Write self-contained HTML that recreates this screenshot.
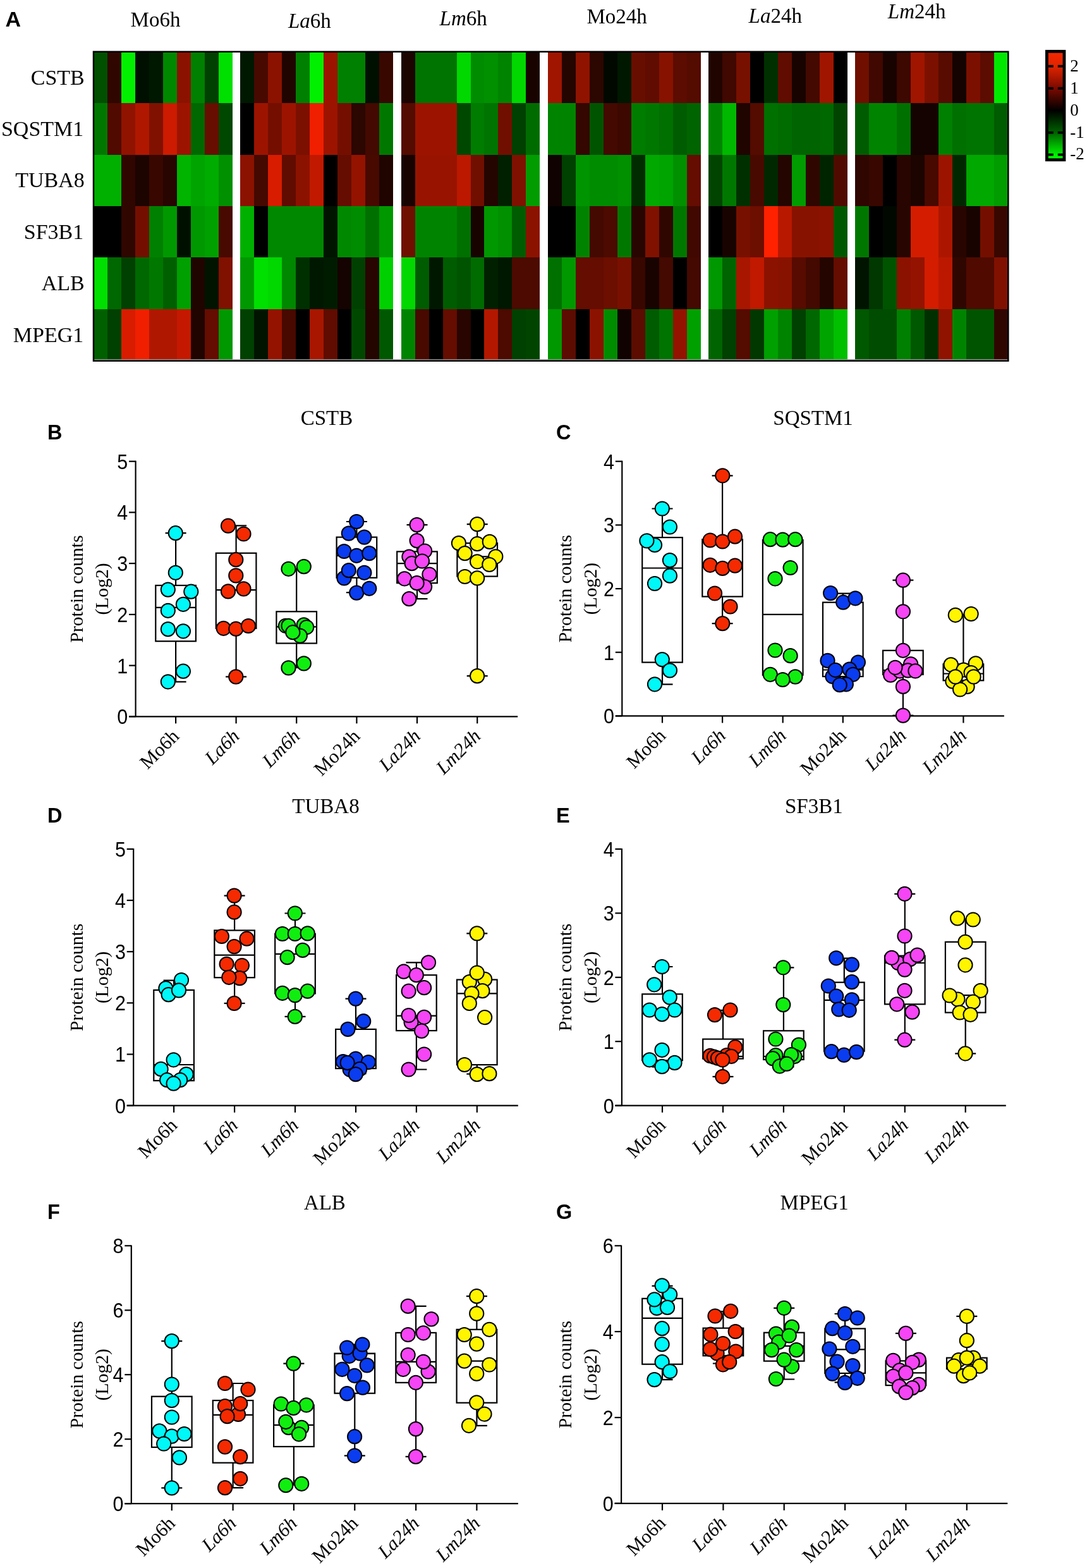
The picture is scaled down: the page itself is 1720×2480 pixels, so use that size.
<!DOCTYPE html>
<html><head><meta charset="utf-8"><title>Figure</title>
<style>html,body{margin:0;padding:0;background:#fff;}svg{display:block;}</style>
</head><body>
<svg width="1720" height="2480" viewBox="0 0 1720 2480">
<rect width="1720" height="2480" fill="#fff"/>
<g shape-rendering="crispEdges">
<rect x="147.8" y="82.9" width="22.6" height="80.8" fill="#005000"/>
<rect x="147.8" y="163.1" width="22.6" height="82.1" fill="#007800"/>
<rect x="147.8" y="244.6" width="22.6" height="82" fill="#00b000"/>
<rect x="147.8" y="326" width="22.6" height="81.9" fill="#000000"/>
<rect x="147.8" y="407.3" width="22.6" height="82.2" fill="#00e000"/>
<rect x="147.8" y="488.9" width="22.6" height="79.9" fill="#006000"/>
<rect x="169.8" y="82.9" width="22.6" height="80.8" fill="#300600"/>
<rect x="169.8" y="163.1" width="22.6" height="82.1" fill="#500a00"/>
<rect x="169.8" y="244.6" width="22.6" height="82" fill="#00b000"/>
<rect x="169.8" y="326" width="22.6" height="81.9" fill="#000000"/>
<rect x="169.8" y="407.3" width="22.6" height="82.2" fill="#006800"/>
<rect x="169.8" y="488.9" width="22.6" height="79.9" fill="#004000"/>
<rect x="191.8" y="82.9" width="22.6" height="80.8" fill="#00f000"/>
<rect x="191.8" y="163.1" width="22.6" height="82.1" fill="#901300"/>
<rect x="191.8" y="244.6" width="22.6" height="82" fill="#300600"/>
<rect x="191.8" y="326" width="22.6" height="81.9" fill="#300600"/>
<rect x="191.8" y="407.3" width="22.6" height="82.2" fill="#004000"/>
<rect x="191.8" y="488.9" width="22.6" height="79.9" fill="#d81c00"/>
<rect x="213.8" y="82.9" width="22.6" height="80.8" fill="#001000"/>
<rect x="213.8" y="163.1" width="22.6" height="82.1" fill="#b01700"/>
<rect x="213.8" y="244.6" width="22.6" height="82" fill="#1c0400"/>
<rect x="213.8" y="326" width="22.6" height="81.9" fill="#740f00"/>
<rect x="213.8" y="407.3" width="22.6" height="82.2" fill="#006800"/>
<rect x="213.8" y="488.9" width="22.6" height="79.9" fill="#f01f00"/>
<rect x="235.8" y="82.9" width="22.6" height="80.8" fill="#001800"/>
<rect x="235.8" y="163.1" width="22.6" height="82.1" fill="#801100"/>
<rect x="235.8" y="244.6" width="22.6" height="82" fill="#380700"/>
<rect x="235.8" y="326" width="22.6" height="81.9" fill="#008000"/>
<rect x="235.8" y="407.3" width="22.6" height="82.2" fill="#007800"/>
<rect x="235.8" y="488.9" width="22.6" height="79.9" fill="#b01700"/>
<rect x="257.8" y="82.9" width="22.6" height="80.8" fill="#008800"/>
<rect x="257.8" y="163.1" width="22.6" height="82.1" fill="#cc1b00"/>
<rect x="257.8" y="244.6" width="22.6" height="82" fill="#280500"/>
<rect x="257.8" y="326" width="22.6" height="81.9" fill="#009800"/>
<rect x="257.8" y="407.3" width="22.6" height="82.2" fill="#006000"/>
<rect x="257.8" y="488.9" width="22.6" height="79.9" fill="#b01700"/>
<rect x="279.8" y="82.9" width="22.6" height="80.8" fill="#8c1200"/>
<rect x="279.8" y="163.1" width="22.6" height="82.1" fill="#9c1400"/>
<rect x="279.8" y="244.6" width="22.6" height="82" fill="#00b400"/>
<rect x="279.8" y="326" width="22.6" height="81.9" fill="#001000"/>
<rect x="279.8" y="407.3" width="22.6" height="82.2" fill="#00a000"/>
<rect x="279.8" y="488.9" width="22.6" height="79.9" fill="#c41900"/>
<rect x="301.8" y="82.9" width="22.6" height="80.8" fill="#008000"/>
<rect x="301.8" y="163.1" width="22.6" height="82.1" fill="#006800"/>
<rect x="301.8" y="244.6" width="22.6" height="82" fill="#00a400"/>
<rect x="301.8" y="326" width="22.6" height="81.9" fill="#009800"/>
<rect x="301.8" y="407.3" width="22.6" height="82.2" fill="#200400"/>
<rect x="301.8" y="488.9" width="22.6" height="79.9" fill="#200400"/>
<rect x="323.8" y="82.9" width="22.6" height="80.8" fill="#004000"/>
<rect x="323.8" y="163.1" width="22.6" height="82.1" fill="#680e00"/>
<rect x="323.8" y="244.6" width="22.6" height="82" fill="#00ac00"/>
<rect x="323.8" y="326" width="22.6" height="81.9" fill="#00a000"/>
<rect x="323.8" y="407.3" width="22.6" height="82.2" fill="#001400"/>
<rect x="323.8" y="488.9" width="22.6" height="79.9" fill="#640d00"/>
<rect x="345.8" y="82.9" width="22" height="80.8" fill="#00e000"/>
<rect x="345.8" y="163.1" width="22" height="82.1" fill="#004800"/>
<rect x="345.8" y="244.6" width="22" height="82" fill="#009000"/>
<rect x="345.8" y="326" width="22" height="81.9" fill="#480900"/>
<rect x="345.8" y="407.3" width="22" height="82.2" fill="#801100"/>
<rect x="345.8" y="488.9" width="22" height="79.9" fill="#009800"/>
<rect x="380.1" y="82.9" width="22.6" height="80.8" fill="#001800"/>
<rect x="380.1" y="163.1" width="22.6" height="82.1" fill="#000000"/>
<rect x="380.1" y="244.6" width="22.6" height="82" fill="#8c1200"/>
<rect x="380.1" y="326" width="22.6" height="81.9" fill="#00b000"/>
<rect x="380.1" y="407.3" width="22.6" height="82.2" fill="#009800"/>
<rect x="380.1" y="488.9" width="22.6" height="79.9" fill="#004000"/>
<rect x="402.1" y="82.9" width="22.6" height="80.8" fill="#480900"/>
<rect x="402.1" y="163.1" width="22.6" height="82.1" fill="#9c1400"/>
<rect x="402.1" y="244.6" width="22.6" height="82" fill="#440900"/>
<rect x="402.1" y="326" width="22.6" height="81.9" fill="#000000"/>
<rect x="402.1" y="407.3" width="22.6" height="82.2" fill="#00e000"/>
<rect x="402.1" y="488.9" width="22.6" height="79.9" fill="#001400"/>
<rect x="424.1" y="82.9" width="22.6" height="80.8" fill="#8c1200"/>
<rect x="424.1" y="163.1" width="22.6" height="82.1" fill="#740f00"/>
<rect x="424.1" y="244.6" width="22.6" height="82" fill="#d81c00"/>
<rect x="424.1" y="326" width="22.6" height="81.9" fill="#008800"/>
<rect x="424.1" y="407.3" width="22.6" height="82.2" fill="#00d800"/>
<rect x="424.1" y="488.9" width="22.6" height="79.9" fill="#941300"/>
<rect x="446.1" y="82.9" width="22.6" height="80.8" fill="#200400"/>
<rect x="446.1" y="163.1" width="22.6" height="82.1" fill="#9c1400"/>
<rect x="446.1" y="244.6" width="22.6" height="82" fill="#600c00"/>
<rect x="446.1" y="326" width="22.6" height="81.9" fill="#008800"/>
<rect x="446.1" y="407.3" width="22.6" height="82.2" fill="#008800"/>
<rect x="446.1" y="488.9" width="22.6" height="79.9" fill="#480900"/>
<rect x="468.1" y="82.9" width="22.6" height="80.8" fill="#008000"/>
<rect x="468.1" y="163.1" width="22.6" height="82.1" fill="#7c1000"/>
<rect x="468.1" y="244.6" width="22.6" height="82" fill="#8c1200"/>
<rect x="468.1" y="326" width="22.6" height="81.9" fill="#008800"/>
<rect x="468.1" y="407.3" width="22.6" height="82.2" fill="#003000"/>
<rect x="468.1" y="488.9" width="22.6" height="79.9" fill="#000000"/>
<rect x="490.1" y="82.9" width="22.6" height="80.8" fill="#00f000"/>
<rect x="490.1" y="163.1" width="22.6" height="82.1" fill="#f01f00"/>
<rect x="490.1" y="244.6" width="22.6" height="82" fill="#c01900"/>
<rect x="490.1" y="326" width="22.6" height="81.9" fill="#008800"/>
<rect x="490.1" y="407.3" width="22.6" height="82.2" fill="#001800"/>
<rect x="490.1" y="488.9" width="22.6" height="79.9" fill="#a81600"/>
<rect x="512.2" y="82.9" width="22.6" height="80.8" fill="#9c1400"/>
<rect x="512.2" y="163.1" width="22.6" height="82.1" fill="#9c1400"/>
<rect x="512.2" y="244.6" width="22.6" height="82" fill="#000000"/>
<rect x="512.2" y="326" width="22.6" height="81.9" fill="#001400"/>
<rect x="512.2" y="407.3" width="22.6" height="82.2" fill="#001c00"/>
<rect x="512.2" y="488.9" width="22.6" height="79.9" fill="#600c00"/>
<rect x="534.2" y="82.9" width="22.6" height="80.8" fill="#008000"/>
<rect x="534.2" y="163.1" width="22.6" height="82.1" fill="#740f00"/>
<rect x="534.2" y="244.6" width="22.6" height="82" fill="#640d00"/>
<rect x="534.2" y="326" width="22.6" height="81.9" fill="#008800"/>
<rect x="534.2" y="407.3" width="22.6" height="82.2" fill="#140300"/>
<rect x="534.2" y="488.9" width="22.6" height="79.9" fill="#000000"/>
<rect x="556.2" y="82.9" width="22.6" height="80.8" fill="#008000"/>
<rect x="556.2" y="163.1" width="22.6" height="82.1" fill="#2c0600"/>
<rect x="556.2" y="244.6" width="22.6" height="82" fill="#941300"/>
<rect x="556.2" y="326" width="22.6" height="81.9" fill="#008c00"/>
<rect x="556.2" y="407.3" width="22.6" height="82.2" fill="#004000"/>
<rect x="556.2" y="488.9" width="22.6" height="79.9" fill="#004800"/>
<rect x="578.2" y="82.9" width="22.6" height="80.8" fill="#001000"/>
<rect x="578.2" y="163.1" width="22.6" height="82.1" fill="#440900"/>
<rect x="578.2" y="244.6" width="22.6" height="82" fill="#480900"/>
<rect x="578.2" y="326" width="22.6" height="81.9" fill="#007000"/>
<rect x="578.2" y="407.3" width="22.6" height="82.2" fill="#280500"/>
<rect x="578.2" y="488.9" width="22.6" height="79.9" fill="#240500"/>
<rect x="600.2" y="82.9" width="22" height="80.8" fill="#380700"/>
<rect x="600.2" y="163.1" width="22" height="82.1" fill="#007800"/>
<rect x="600.2" y="244.6" width="22" height="82" fill="#200400"/>
<rect x="600.2" y="326" width="22" height="81.9" fill="#009800"/>
<rect x="600.2" y="407.3" width="22" height="82.2" fill="#00d000"/>
<rect x="600.2" y="488.9" width="22" height="79.9" fill="#005800"/>
<rect x="634.5" y="82.9" width="22.6" height="80.8" fill="#1c0400"/>
<rect x="634.5" y="163.1" width="22.6" height="82.1" fill="#540b00"/>
<rect x="634.5" y="244.6" width="22.6" height="82" fill="#180300"/>
<rect x="634.5" y="326" width="22.6" height="81.9" fill="#700f00"/>
<rect x="634.5" y="407.3" width="22.6" height="82.2" fill="#00d800"/>
<rect x="634.5" y="488.9" width="22.6" height="79.9" fill="#008400"/>
<rect x="656.5" y="82.9" width="22.6" height="80.8" fill="#007400"/>
<rect x="656.5" y="163.1" width="22.6" height="82.1" fill="#9c1400"/>
<rect x="656.5" y="244.6" width="22.6" height="82" fill="#981400"/>
<rect x="656.5" y="326" width="22.6" height="81.9" fill="#008400"/>
<rect x="656.5" y="407.3" width="22.6" height="82.2" fill="#005c00"/>
<rect x="656.5" y="488.9" width="22.6" height="79.9" fill="#480900"/>
<rect x="678.5" y="82.9" width="22.6" height="80.8" fill="#007400"/>
<rect x="678.5" y="163.1" width="22.6" height="82.1" fill="#9c1400"/>
<rect x="678.5" y="244.6" width="22.6" height="82" fill="#981400"/>
<rect x="678.5" y="326" width="22.6" height="81.9" fill="#008400"/>
<rect x="678.5" y="407.3" width="22.6" height="82.2" fill="#001800"/>
<rect x="678.5" y="488.9" width="22.6" height="79.9" fill="#000000"/>
<rect x="700.5" y="82.9" width="22.6" height="80.8" fill="#007400"/>
<rect x="700.5" y="163.1" width="22.6" height="82.1" fill="#9c1400"/>
<rect x="700.5" y="244.6" width="22.6" height="82" fill="#981400"/>
<rect x="700.5" y="326" width="22.6" height="81.9" fill="#008400"/>
<rect x="700.5" y="407.3" width="22.6" height="82.2" fill="#005c00"/>
<rect x="700.5" y="488.9" width="22.6" height="79.9" fill="#640d00"/>
<rect x="722.5" y="82.9" width="22.6" height="80.8" fill="#00d800"/>
<rect x="722.5" y="163.1" width="22.6" height="82.1" fill="#004800"/>
<rect x="722.5" y="244.6" width="22.6" height="82" fill="#bc1800"/>
<rect x="722.5" y="326" width="22.6" height="81.9" fill="#007000"/>
<rect x="722.5" y="407.3" width="22.6" height="82.2" fill="#005400"/>
<rect x="722.5" y="488.9" width="22.6" height="79.9" fill="#280500"/>
<rect x="744.5" y="82.9" width="22.6" height="80.8" fill="#008c00"/>
<rect x="744.5" y="163.1" width="22.6" height="82.1" fill="#007c00"/>
<rect x="744.5" y="244.6" width="22.6" height="82" fill="#700f00"/>
<rect x="744.5" y="326" width="22.6" height="81.9" fill="#180300"/>
<rect x="744.5" y="407.3" width="22.6" height="82.2" fill="#006c00"/>
<rect x="744.5" y="488.9" width="22.6" height="79.9" fill="#000000"/>
<rect x="766.4" y="82.9" width="22.6" height="80.8" fill="#009000"/>
<rect x="766.4" y="163.1" width="22.6" height="82.1" fill="#007400"/>
<rect x="766.4" y="244.6" width="22.6" height="82" fill="#240500"/>
<rect x="766.4" y="326" width="22.6" height="81.9" fill="#009800"/>
<rect x="766.4" y="407.3" width="22.6" height="82.2" fill="#002000"/>
<rect x="766.4" y="488.9" width="22.6" height="79.9" fill="#b41700"/>
<rect x="788.4" y="82.9" width="22.6" height="80.8" fill="#008400"/>
<rect x="788.4" y="163.1" width="22.6" height="82.1" fill="#700f00"/>
<rect x="788.4" y="244.6" width="22.6" height="82" fill="#002000"/>
<rect x="788.4" y="326" width="22.6" height="81.9" fill="#009000"/>
<rect x="788.4" y="407.3" width="22.6" height="82.2" fill="#001800"/>
<rect x="788.4" y="488.9" width="22.6" height="79.9" fill="#4c0a00"/>
<rect x="810.4" y="82.9" width="22.6" height="80.8" fill="#00d800"/>
<rect x="810.4" y="163.1" width="22.6" height="82.1" fill="#004000"/>
<rect x="810.4" y="244.6" width="22.6" height="82" fill="#801100"/>
<rect x="810.4" y="326" width="22.6" height="81.9" fill="#005c00"/>
<rect x="810.4" y="407.3" width="22.6" height="82.2" fill="#4c0a00"/>
<rect x="810.4" y="488.9" width="22.6" height="79.9" fill="#004000"/>
<rect x="832.4" y="82.9" width="22" height="80.8" fill="#180300"/>
<rect x="832.4" y="163.1" width="22" height="82.1" fill="#006c00"/>
<rect x="832.4" y="244.6" width="22" height="82" fill="#009c00"/>
<rect x="832.4" y="326" width="22" height="81.9" fill="#8c1200"/>
<rect x="832.4" y="407.3" width="22" height="82.2" fill="#4c0a00"/>
<rect x="832.4" y="488.9" width="22" height="79.9" fill="#004400"/>
<rect x="867.1" y="82.9" width="22.6" height="80.8" fill="#a01500"/>
<rect x="867.1" y="163.1" width="22.6" height="82.1" fill="#008400"/>
<rect x="867.1" y="244.6" width="22.6" height="82" fill="#100200"/>
<rect x="867.1" y="326" width="22.6" height="81.9" fill="#000000"/>
<rect x="867.1" y="407.3" width="22.6" height="82.2" fill="#007000"/>
<rect x="867.1" y="488.9" width="22.6" height="79.9" fill="#009800"/>
<rect x="889.1" y="82.9" width="22.6" height="80.8" fill="#240500"/>
<rect x="889.1" y="163.1" width="22.6" height="82.1" fill="#008400"/>
<rect x="889.1" y="244.6" width="22.6" height="82" fill="#004000"/>
<rect x="889.1" y="326" width="22.6" height="81.9" fill="#000000"/>
<rect x="889.1" y="407.3" width="22.6" height="82.2" fill="#009800"/>
<rect x="889.1" y="488.9" width="22.6" height="79.9" fill="#5c0c00"/>
<rect x="911" y="82.9" width="22.6" height="80.8" fill="#901300"/>
<rect x="911" y="163.1" width="22.6" height="82.1" fill="#340700"/>
<rect x="911" y="244.6" width="22.6" height="82" fill="#009400"/>
<rect x="911" y="326" width="22.6" height="81.9" fill="#008400"/>
<rect x="911" y="407.3" width="22.6" height="82.2" fill="#640d00"/>
<rect x="911" y="488.9" width="22.6" height="79.9" fill="#000000"/>
<rect x="933" y="82.9" width="22.6" height="80.8" fill="#2c0600"/>
<rect x="933" y="163.1" width="22.6" height="82.1" fill="#005400"/>
<rect x="933" y="244.6" width="22.6" height="82" fill="#008c00"/>
<rect x="933" y="326" width="22.6" height="81.9" fill="#440900"/>
<rect x="933" y="407.3" width="22.6" height="82.2" fill="#640d00"/>
<rect x="933" y="488.9" width="22.6" height="79.9" fill="#8c1200"/>
<rect x="955" y="82.9" width="22.6" height="80.8" fill="#000800"/>
<rect x="955" y="163.1" width="22.6" height="82.1" fill="#440900"/>
<rect x="955" y="244.6" width="22.6" height="82" fill="#008c00"/>
<rect x="955" y="326" width="22.6" height="81.9" fill="#4c0a00"/>
<rect x="955" y="407.3" width="22.6" height="82.2" fill="#6c0e00"/>
<rect x="955" y="488.9" width="22.6" height="79.9" fill="#008c00"/>
<rect x="976.9" y="82.9" width="22.6" height="80.8" fill="#001800"/>
<rect x="976.9" y="163.1" width="22.6" height="82.1" fill="#3c0800"/>
<rect x="976.9" y="244.6" width="22.6" height="82" fill="#009000"/>
<rect x="976.9" y="326" width="22.6" height="81.9" fill="#007800"/>
<rect x="976.9" y="407.3" width="22.6" height="82.2" fill="#781000"/>
<rect x="976.9" y="488.9" width="22.6" height="79.9" fill="#100200"/>
<rect x="998.9" y="82.9" width="22.6" height="80.8" fill="#680e00"/>
<rect x="998.9" y="163.1" width="22.6" height="82.1" fill="#007c00"/>
<rect x="998.9" y="244.6" width="22.6" height="82" fill="#002c00"/>
<rect x="998.9" y="326" width="22.6" height="81.9" fill="#280500"/>
<rect x="998.9" y="407.3" width="22.6" height="82.2" fill="#380700"/>
<rect x="998.9" y="488.9" width="22.6" height="79.9" fill="#5c0c00"/>
<rect x="1020.8" y="82.9" width="22.6" height="80.8" fill="#600c00"/>
<rect x="1020.8" y="163.1" width="22.6" height="82.1" fill="#007800"/>
<rect x="1020.8" y="244.6" width="22.6" height="82" fill="#00a800"/>
<rect x="1020.8" y="326" width="22.6" height="81.9" fill="#801100"/>
<rect x="1020.8" y="407.3" width="22.6" height="82.2" fill="#180300"/>
<rect x="1020.8" y="488.9" width="22.6" height="79.9" fill="#005c00"/>
<rect x="1042.8" y="82.9" width="22.6" height="80.8" fill="#881200"/>
<rect x="1042.8" y="163.1" width="22.6" height="82.1" fill="#007000"/>
<rect x="1042.8" y="244.6" width="22.6" height="82" fill="#00a400"/>
<rect x="1042.8" y="326" width="22.6" height="81.9" fill="#300600"/>
<rect x="1042.8" y="407.3" width="22.6" height="82.2" fill="#440900"/>
<rect x="1042.8" y="488.9" width="22.6" height="79.9" fill="#007400"/>
<rect x="1064.8" y="82.9" width="22.6" height="80.8" fill="#5c0c00"/>
<rect x="1064.8" y="163.1" width="22.6" height="82.1" fill="#005c00"/>
<rect x="1064.8" y="244.6" width="22.6" height="82" fill="#009000"/>
<rect x="1064.8" y="326" width="22.6" height="81.9" fill="#007800"/>
<rect x="1064.8" y="407.3" width="22.6" height="82.2" fill="#000000"/>
<rect x="1064.8" y="488.9" width="22.6" height="79.9" fill="#941300"/>
<rect x="1086.7" y="82.9" width="22" height="80.8" fill="#540b00"/>
<rect x="1086.7" y="163.1" width="22" height="82.1" fill="#006400"/>
<rect x="1086.7" y="244.6" width="22" height="82" fill="#640d00"/>
<rect x="1086.7" y="326" width="22" height="81.9" fill="#400800"/>
<rect x="1086.7" y="407.3" width="22" height="82.2" fill="#440900"/>
<rect x="1086.7" y="488.9" width="22" height="79.9" fill="#00a000"/>
<rect x="1121.3" y="82.9" width="22.6" height="80.8" fill="#200400"/>
<rect x="1121.3" y="163.1" width="22.6" height="82.1" fill="#008400"/>
<rect x="1121.3" y="244.6" width="22.6" height="82" fill="#004400"/>
<rect x="1121.3" y="326" width="22.6" height="81.9" fill="#000000"/>
<rect x="1121.3" y="407.3" width="22.6" height="82.2" fill="#009800"/>
<rect x="1121.3" y="488.9" width="22.6" height="79.9" fill="#006400"/>
<rect x="1143.2" y="82.9" width="22.6" height="80.8" fill="#400800"/>
<rect x="1143.2" y="163.1" width="22.6" height="82.1" fill="#00b800"/>
<rect x="1143.2" y="244.6" width="22.6" height="82" fill="#007800"/>
<rect x="1143.2" y="326" width="22.6" height="81.9" fill="#180300"/>
<rect x="1143.2" y="407.3" width="22.6" height="82.2" fill="#006400"/>
<rect x="1143.2" y="488.9" width="22.6" height="79.9" fill="#004000"/>
<rect x="1165.2" y="82.9" width="22.6" height="80.8" fill="#781000"/>
<rect x="1165.2" y="163.1" width="22.6" height="82.1" fill="#200400"/>
<rect x="1165.2" y="244.6" width="22.6" height="82" fill="#003000"/>
<rect x="1165.2" y="326" width="22.6" height="81.9" fill="#781000"/>
<rect x="1165.2" y="407.3" width="22.6" height="82.2" fill="#a81600"/>
<rect x="1165.2" y="488.9" width="22.6" height="79.9" fill="#540b00"/>
<rect x="1187.1" y="82.9" width="22.6" height="80.8" fill="#000000"/>
<rect x="1187.1" y="163.1" width="22.6" height="82.1" fill="#540b00"/>
<rect x="1187.1" y="244.6" width="22.6" height="82" fill="#480900"/>
<rect x="1187.1" y="326" width="22.6" height="81.9" fill="#6c0e00"/>
<rect x="1187.1" y="407.3" width="22.6" height="82.2" fill="#c01900"/>
<rect x="1187.1" y="488.9" width="22.6" height="79.9" fill="#003800"/>
<rect x="1209.1" y="82.9" width="22.6" height="80.8" fill="#003000"/>
<rect x="1209.1" y="163.1" width="22.6" height="82.1" fill="#007000"/>
<rect x="1209.1" y="244.6" width="22.6" height="82" fill="#002800"/>
<rect x="1209.1" y="326" width="22.6" height="81.9" fill="#ff2100"/>
<rect x="1209.1" y="407.3" width="22.6" height="82.2" fill="#8c1200"/>
<rect x="1209.1" y="488.9" width="22.6" height="79.9" fill="#00a000"/>
<rect x="1231" y="82.9" width="22.6" height="80.8" fill="#600c00"/>
<rect x="1231" y="163.1" width="22.6" height="82.1" fill="#006c00"/>
<rect x="1231" y="244.6" width="22.6" height="82" fill="#240500"/>
<rect x="1231" y="326" width="22.6" height="81.9" fill="#b81800"/>
<rect x="1231" y="407.3" width="22.6" height="82.2" fill="#881200"/>
<rect x="1231" y="488.9" width="22.6" height="79.9" fill="#008400"/>
<rect x="1253" y="82.9" width="22.6" height="80.8" fill="#180300"/>
<rect x="1253" y="163.1" width="22.6" height="82.1" fill="#006400"/>
<rect x="1253" y="244.6" width="22.6" height="82" fill="#009c00"/>
<rect x="1253" y="326" width="22.6" height="81.9" fill="#881200"/>
<rect x="1253" y="407.3" width="22.6" height="82.2" fill="#580b00"/>
<rect x="1253" y="488.9" width="22.6" height="79.9" fill="#004000"/>
<rect x="1275" y="82.9" width="22.6" height="80.8" fill="#440900"/>
<rect x="1275" y="163.1" width="22.6" height="82.1" fill="#006400"/>
<rect x="1275" y="244.6" width="22.6" height="82" fill="#300600"/>
<rect x="1275" y="326" width="22.6" height="81.9" fill="#881200"/>
<rect x="1275" y="407.3" width="22.6" height="82.2" fill="#440900"/>
<rect x="1275" y="488.9" width="22.6" height="79.9" fill="#006800"/>
<rect x="1296.9" y="82.9" width="22.6" height="80.8" fill="#a01500"/>
<rect x="1296.9" y="163.1" width="22.6" height="82.1" fill="#006800"/>
<rect x="1296.9" y="244.6" width="22.6" height="82" fill="#002400"/>
<rect x="1296.9" y="326" width="22.6" height="81.9" fill="#8c1200"/>
<rect x="1296.9" y="407.3" width="22.6" height="82.2" fill="#240500"/>
<rect x="1296.9" y="488.9" width="22.6" height="79.9" fill="#00a400"/>
<rect x="1318.8" y="82.9" width="21.9" height="80.8" fill="#000000"/>
<rect x="1318.8" y="163.1" width="21.9" height="82.1" fill="#004400"/>
<rect x="1318.8" y="244.6" width="21.9" height="82" fill="#500a00"/>
<rect x="1318.8" y="326" width="21.9" height="81.9" fill="#005800"/>
<rect x="1318.8" y="407.3" width="21.9" height="82.2" fill="#640d00"/>
<rect x="1318.8" y="488.9" width="21.9" height="79.9" fill="#00c000"/>
<rect x="1353.2" y="82.9" width="22.6" height="80.8" fill="#700f00"/>
<rect x="1353.2" y="163.1" width="22.6" height="82.1" fill="#005c00"/>
<rect x="1353.2" y="244.6" width="22.6" height="82" fill="#300600"/>
<rect x="1353.2" y="326" width="22.6" height="81.9" fill="#007800"/>
<rect x="1353.2" y="407.3" width="22.6" height="82.2" fill="#001400"/>
<rect x="1353.2" y="488.9" width="22.6" height="79.9" fill="#005800"/>
<rect x="1375.2" y="82.9" width="22.6" height="80.8" fill="#400800"/>
<rect x="1375.2" y="163.1" width="22.6" height="82.1" fill="#008400"/>
<rect x="1375.2" y="244.6" width="22.6" height="82" fill="#380700"/>
<rect x="1375.2" y="326" width="22.6" height="81.9" fill="#000000"/>
<rect x="1375.2" y="407.3" width="22.6" height="82.2" fill="#003800"/>
<rect x="1375.2" y="488.9" width="22.6" height="79.9" fill="#004c00"/>
<rect x="1397.2" y="82.9" width="22.6" height="80.8" fill="#180300"/>
<rect x="1397.2" y="163.1" width="22.6" height="82.1" fill="#008400"/>
<rect x="1397.2" y="244.6" width="22.6" height="82" fill="#000000"/>
<rect x="1397.2" y="326" width="22.6" height="81.9" fill="#000800"/>
<rect x="1397.2" y="407.3" width="22.6" height="82.2" fill="#005400"/>
<rect x="1397.2" y="488.9" width="22.6" height="79.9" fill="#004c00"/>
<rect x="1419.2" y="82.9" width="22.6" height="80.8" fill="#3c0800"/>
<rect x="1419.2" y="163.1" width="22.6" height="82.1" fill="#007000"/>
<rect x="1419.2" y="244.6" width="22.6" height="82" fill="#280500"/>
<rect x="1419.2" y="326" width="22.6" height="81.9" fill="#280500"/>
<rect x="1419.2" y="407.3" width="22.6" height="82.2" fill="#8c1200"/>
<rect x="1419.2" y="488.9" width="22.6" height="79.9" fill="#008000"/>
<rect x="1441.2" y="82.9" width="22.6" height="80.8" fill="#a01500"/>
<rect x="1441.2" y="163.1" width="22.6" height="82.1" fill="#140300"/>
<rect x="1441.2" y="244.6" width="22.6" height="82" fill="#1c0400"/>
<rect x="1441.2" y="326" width="22.6" height="81.9" fill="#d41c00"/>
<rect x="1441.2" y="407.3" width="22.6" height="82.2" fill="#941300"/>
<rect x="1441.2" y="488.9" width="22.6" height="79.9" fill="#005800"/>
<rect x="1463.2" y="82.9" width="22.6" height="80.8" fill="#7c1000"/>
<rect x="1463.2" y="163.1" width="22.6" height="82.1" fill="#140300"/>
<rect x="1463.2" y="244.6" width="22.6" height="82" fill="#480900"/>
<rect x="1463.2" y="326" width="22.6" height="81.9" fill="#d41c00"/>
<rect x="1463.2" y="407.3" width="22.6" height="82.2" fill="#d41c00"/>
<rect x="1463.2" y="488.9" width="22.6" height="79.9" fill="#003000"/>
<rect x="1485.2" y="82.9" width="22.6" height="80.8" fill="#580b00"/>
<rect x="1485.2" y="163.1" width="22.6" height="82.1" fill="#008000"/>
<rect x="1485.2" y="244.6" width="22.6" height="82" fill="#9c1400"/>
<rect x="1485.2" y="326" width="22.6" height="81.9" fill="#ac1600"/>
<rect x="1485.2" y="407.3" width="22.6" height="82.2" fill="#bc1800"/>
<rect x="1485.2" y="488.9" width="22.6" height="79.9" fill="#901300"/>
<rect x="1507.2" y="82.9" width="22.6" height="80.8" fill="#140300"/>
<rect x="1507.2" y="163.1" width="22.6" height="82.1" fill="#007000"/>
<rect x="1507.2" y="244.6" width="22.6" height="82" fill="#002800"/>
<rect x="1507.2" y="326" width="22.6" height="81.9" fill="#280500"/>
<rect x="1507.2" y="407.3" width="22.6" height="82.2" fill="#300600"/>
<rect x="1507.2" y="488.9" width="22.6" height="79.9" fill="#008400"/>
<rect x="1529.2" y="82.9" width="22.6" height="80.8" fill="#7c1000"/>
<rect x="1529.2" y="163.1" width="22.6" height="82.1" fill="#007400"/>
<rect x="1529.2" y="244.6" width="22.6" height="82" fill="#00a800"/>
<rect x="1529.2" y="326" width="22.6" height="81.9" fill="#180300"/>
<rect x="1529.2" y="407.3" width="22.6" height="82.2" fill="#500a00"/>
<rect x="1529.2" y="488.9" width="22.6" height="79.9" fill="#005400"/>
<rect x="1551.2" y="82.9" width="22.6" height="80.8" fill="#5c0c00"/>
<rect x="1551.2" y="163.1" width="22.6" height="82.1" fill="#007400"/>
<rect x="1551.2" y="244.6" width="22.6" height="82" fill="#00a800"/>
<rect x="1551.2" y="326" width="22.6" height="81.9" fill="#740f00"/>
<rect x="1551.2" y="407.3" width="22.6" height="82.2" fill="#500a00"/>
<rect x="1551.2" y="488.9" width="22.6" height="79.9" fill="#005400"/>
<rect x="1573.2" y="82.9" width="22" height="80.8" fill="#00e800"/>
<rect x="1573.2" y="163.1" width="22" height="82.1" fill="#005c00"/>
<rect x="1573.2" y="244.6" width="22" height="82" fill="#009c00"/>
<rect x="1573.2" y="326" width="22" height="81.9" fill="#380700"/>
<rect x="1573.2" y="407.3" width="22" height="82.2" fill="#801100"/>
<rect x="1573.2" y="488.9" width="22" height="79.9" fill="#300600"/>
</g>
<rect x="149.3" y="568.2" width="1445.9" height="1.3" fill="#9a9a9a"/>
<rect x="148" y="81.8" width="1447.3" height="488.9" fill="none" stroke="#000" stroke-width="2.5"/>
<text x="206.6" y="42.3" font-family="'Liberation Serif', 'Times New Roman', serif" font-size="33"><tspan>Mo6h</tspan></text>
<text x="456" y="44.4" font-family="'Liberation Serif', 'Times New Roman', serif" font-size="33"><tspan font-style="italic">La</tspan><tspan>6h</tspan></text>
<text x="695.6" y="40.4" font-family="'Liberation Serif', 'Times New Roman', serif" font-size="33"><tspan font-style="italic">Lm</tspan><tspan>6h</tspan></text>
<text x="928.4" y="36.9" font-family="'Liberation Serif', 'Times New Roman', serif" font-size="33"><tspan>Mo24h</tspan></text>
<text x="1184.6" y="35.7" font-family="'Liberation Serif', 'Times New Roman', serif" font-size="33"><tspan font-style="italic">La</tspan><tspan>24h</tspan></text>
<text x="1404.8" y="29.1" font-family="'Liberation Serif', 'Times New Roman', serif" font-size="33"><tspan font-style="italic">Lm</tspan><tspan>24h</tspan></text>
<text x="133.8" y="133.5" font-family="'Liberation Serif', 'Times New Roman', serif" font-size="34" text-anchor="end">CSTB</text>
<text x="132.3" y="214.9" font-family="'Liberation Serif', 'Times New Roman', serif" font-size="34" text-anchor="end">SQSTM1</text>
<text x="133.8" y="295.9" font-family="'Liberation Serif', 'Times New Roman', serif" font-size="34" text-anchor="end">TUBA8</text>
<text x="132.3" y="377.8" font-family="'Liberation Serif', 'Times New Roman', serif" font-size="34" text-anchor="end">SF3B1</text>
<text x="133.8" y="458.7" font-family="'Liberation Serif', 'Times New Roman', serif" font-size="34" text-anchor="end">ALB</text>
<text x="132.3" y="540.8" font-family="'Liberation Serif', 'Times New Roman', serif" font-size="34" text-anchor="end">MPEG1</text>
<text x="8.5" y="42.3" font-family="'Liberation Sans', Arial, sans-serif" font-size="34" font-weight="bold">A</text>
<defs><linearGradient id="lg" x1="0" y1="83.7" x2="0" y2="250.5" gradientUnits="userSpaceOnUse"><stop offset="0" stop-color="#f52800"/><stop offset="0.126" stop-color="#e02400"/><stop offset="0.335" stop-color="#7a0a00"/><stop offset="0.545" stop-color="#000000"/><stop offset="0.755" stop-color="#006000"/><stop offset="0.965" stop-color="#00f000"/><stop offset="1" stop-color="#00ff00"/></linearGradient></defs>
<rect x="1656.4" y="81.3" width="27.6" height="171.5" fill="url(#lg)" stroke="#000" stroke-width="4.8"/>
<rect x="1658.8" y="102.8" width="8.0" height="3.8" fill="#000"/>
<rect x="1673.8" y="102.8" width="8.2" height="3.8" fill="#000"/>
<rect x="1658.8" y="137.8" width="8.0" height="3.8" fill="#000"/>
<rect x="1673.8" y="137.8" width="8.2" height="3.8" fill="#000"/>
<rect x="1658.8" y="207.8" width="8.0" height="3.8" fill="#000"/>
<rect x="1673.8" y="207.8" width="8.2" height="3.8" fill="#000"/>
<rect x="1658.8" y="242.7" width="8.0" height="3.8" fill="#000"/>
<rect x="1673.8" y="242.7" width="8.2" height="3.8" fill="#000"/>
<text x="1693.3" y="112.8" font-family="'Liberation Serif', 'Times New Roman', serif" font-size="27">2</text>
<text x="1693.3" y="148.4" font-family="'Liberation Serif', 'Times New Roman', serif" font-size="27">1</text>
<text x="1693.3" y="182.7" font-family="'Liberation Serif', 'Times New Roman', serif" font-size="27">0</text>
<text x="1693.3" y="217.9" font-family="'Liberation Serif', 'Times New Roman', serif" font-size="27">-1</text>
<text x="1693.3" y="252.2" font-family="'Liberation Serif', 'Times New Roman', serif" font-size="27">-2</text>
<g stroke="#000" stroke-width="2.2" fill="none">
<line x1="214.6" y1="728.8" x2="214.6" y2="1133.3"/>
<line x1="204.1" y1="1133.3" x2="819.2" y2="1133.3"/>
<line x1="204.1" y1="1133.3" x2="214.6" y2="1133.3"/>
<line x1="204.1" y1="1052.6" x2="214.6" y2="1052.6"/>
<line x1="204.1" y1="971.9" x2="214.6" y2="971.9"/>
<line x1="204.1" y1="891.1" x2="214.6" y2="891.1"/>
<line x1="204.1" y1="810.4" x2="214.6" y2="810.4"/>
<line x1="204.1" y1="729.7" x2="214.6" y2="729.7"/>
<line x1="278.1" y1="1133.3" x2="278.1" y2="1144.3"/>
<line x1="373.6" y1="1133.3" x2="373.6" y2="1144.3"/>
<line x1="469.2" y1="1133.3" x2="469.2" y2="1144.3"/>
<line x1="564.4" y1="1133.3" x2="564.4" y2="1144.3"/>
<line x1="660" y1="1133.3" x2="660" y2="1144.3"/>
<line x1="755.2" y1="1133.3" x2="755.2" y2="1144.3"/>
<line x1="278.1" y1="843.2" x2="278.1" y2="925.9"/>
<line x1="278.1" y1="1014.2" x2="278.1" y2="1078.3"/>
<line x1="261.6" y1="843.2" x2="294.6" y2="843.2"/>
<line x1="261.6" y1="1078.3" x2="294.6" y2="1078.3"/>
<rect x="246.3" y="925.9" width="63.6" height="88.3" fill="none"/>
<line x1="246.3" y1="960.9" x2="309.9" y2="960.9"/>
<line x1="373.6" y1="831.3" x2="373.6" y2="874.8"/>
<line x1="373.6" y1="993.8" x2="373.6" y2="1070.4"/>
<line x1="357.1" y1="831.3" x2="390.1" y2="831.3"/>
<line x1="357.1" y1="1070.4" x2="390.1" y2="1070.4"/>
<rect x="341.8" y="874.8" width="63.6" height="119" fill="none"/>
<line x1="341.8" y1="933.2" x2="405.4" y2="933.2"/>
<line x1="469.2" y1="899.8" x2="469.2" y2="967.3"/>
<line x1="469.2" y1="1017.5" x2="469.2" y2="1055.8"/>
<line x1="452.7" y1="899.8" x2="485.7" y2="899.8"/>
<line x1="452.7" y1="1055.8" x2="485.7" y2="1055.8"/>
<rect x="437.4" y="967.3" width="63.6" height="50.2" fill="none"/>
<line x1="437.4" y1="991.4" x2="501" y2="991.4"/>
<line x1="564.4" y1="825" x2="564.4" y2="849.6"/>
<line x1="564.4" y1="913.8" x2="564.4" y2="937.2"/>
<line x1="547.9" y1="825" x2="580.9" y2="825"/>
<line x1="547.9" y1="937.2" x2="580.9" y2="937.2"/>
<rect x="532.6" y="849.6" width="63.6" height="64.2" fill="none"/>
<line x1="532.6" y1="879" x2="596.2" y2="879"/>
<line x1="660" y1="830.1" x2="660" y2="872.4"/>
<line x1="660" y1="922.2" x2="660" y2="947.2"/>
<line x1="643.5" y1="830.1" x2="676.5" y2="830.1"/>
<line x1="643.5" y1="947.2" x2="676.5" y2="947.2"/>
<rect x="628.2" y="872.4" width="63.6" height="49.8" fill="none"/>
<line x1="628.2" y1="891.2" x2="691.8" y2="891.2"/>
<line x1="755.2" y1="829.1" x2="755.2" y2="859.1"/>
<line x1="755.2" y1="911.6" x2="755.2" y2="1069.1"/>
<line x1="738.7" y1="829.1" x2="771.7" y2="829.1"/>
<line x1="738.7" y1="1069.1" x2="771.7" y2="1069.1"/>
<rect x="723.4" y="859.1" width="63.6" height="52.5" fill="none"/>
<line x1="723.4" y1="880.3" x2="787" y2="880.3"/>
</g>
<g stroke="#000" stroke-width="2">
<circle cx="277.8" cy="843.2" r="11.1" fill="#00f8f8"/>
<circle cx="277.8" cy="905.8" r="11.1" fill="#00f8f8"/>
<circle cx="265.8" cy="932.6" r="11.1" fill="#00f8f8"/>
<circle cx="302.3" cy="935.7" r="11.1" fill="#00f8f8"/>
<circle cx="289.9" cy="955.8" r="11.1" fill="#00f8f8"/>
<circle cx="265.8" cy="965.8" r="11.1" fill="#00f8f8"/>
<circle cx="265.8" cy="995.1" r="11.1" fill="#00f8f8"/>
<circle cx="289.9" cy="998.3" r="11.1" fill="#00f8f8"/>
<circle cx="289.9" cy="1061.7" r="11.1" fill="#00f8f8"/>
<circle cx="265.8" cy="1078.3" r="11.1" fill="#00f8f8"/>
<circle cx="361" cy="831.7" r="11.1" fill="#f52a00"/>
<circle cx="385.5" cy="844.5" r="11.1" fill="#f52a00"/>
<circle cx="373.3" cy="885.2" r="11.1" fill="#f52a00"/>
<circle cx="373.3" cy="910.4" r="11.1" fill="#f52a00"/>
<circle cx="361" cy="935.4" r="11.1" fill="#f52a00"/>
<circle cx="385.5" cy="931.4" r="11.1" fill="#f52a00"/>
<circle cx="353.7" cy="993.8" r="11.1" fill="#f52a00"/>
<circle cx="373.3" cy="994.7" r="11.1" fill="#f52a00"/>
<circle cx="393" cy="990" r="11.1" fill="#f52a00"/>
<circle cx="373.3" cy="1070.4" r="11.1" fill="#f52a00"/>
<circle cx="456.5" cy="899.8" r="11.1" fill="#10ee10"/>
<circle cx="480.8" cy="896.1" r="11.1" fill="#10ee10"/>
<circle cx="451.9" cy="989.8" r="11.1" fill="#10ee10"/>
<circle cx="456.5" cy="989.8" r="11.1" fill="#10ee10"/>
<circle cx="480.8" cy="988.3" r="11.1" fill="#10ee10"/>
<circle cx="485.2" cy="992" r="11.1" fill="#10ee10"/>
<circle cx="474.8" cy="1005.6" r="11.1" fill="#10ee10"/>
<circle cx="463.3" cy="1000.2" r="11.1" fill="#10ee10"/>
<circle cx="456.5" cy="1056.4" r="11.1" fill="#10ee10"/>
<circle cx="480.8" cy="1049.4" r="11.1" fill="#10ee10"/>
<circle cx="564.2" cy="825" r="11.1" fill="#0a3cf0"/>
<circle cx="551.8" cy="843.6" r="11.1" fill="#0a3cf0"/>
<circle cx="576.4" cy="849.6" r="11.1" fill="#0a3cf0"/>
<circle cx="544.5" cy="872" r="11.1" fill="#0a3cf0"/>
<circle cx="564.2" cy="878.8" r="11.1" fill="#0a3cf0"/>
<circle cx="584.3" cy="875.1" r="11.1" fill="#0a3cf0"/>
<circle cx="544.5" cy="914.4" r="11.1" fill="#0a3cf0"/>
<circle cx="551.8" cy="902.2" r="11.1" fill="#0a3cf0"/>
<circle cx="576.4" cy="905.8" r="11.1" fill="#0a3cf0"/>
<circle cx="564.2" cy="937.6" r="11.1" fill="#0a3cf0"/>
<circle cx="584.3" cy="930.8" r="11.1" fill="#0a3cf0"/>
<circle cx="659.6" cy="830.1" r="11.1" fill="#f545f5"/>
<circle cx="659.6" cy="855.1" r="11.1" fill="#f545f5"/>
<circle cx="672.1" cy="871.5" r="11.1" fill="#f545f5"/>
<circle cx="647.4" cy="880.6" r="11.1" fill="#f545f5"/>
<circle cx="651.6" cy="891.2" r="11.1" fill="#f545f5"/>
<circle cx="668" cy="887.5" r="11.1" fill="#f545f5"/>
<circle cx="679.4" cy="908.5" r="11.1" fill="#f545f5"/>
<circle cx="640.1" cy="915.3" r="11.1" fill="#f545f5"/>
<circle cx="672.1" cy="928.1" r="11.1" fill="#f545f5"/>
<circle cx="659.6" cy="922.2" r="11.1" fill="#f545f5"/>
<circle cx="647.4" cy="947.2" r="11.1" fill="#f545f5"/>
<circle cx="755.1" cy="829.1" r="11.1" fill="#fff500"/>
<circle cx="725.9" cy="859.1" r="11.1" fill="#fff500"/>
<circle cx="755.1" cy="860.2" r="11.1" fill="#fff500"/>
<circle cx="774.8" cy="856.9" r="11.1" fill="#fff500"/>
<circle cx="735.6" cy="875.1" r="11.1" fill="#fff500"/>
<circle cx="784.3" cy="880.3" r="11.1" fill="#fff500"/>
<circle cx="755.1" cy="888.3" r="11.1" fill="#fff500"/>
<circle cx="774.3" cy="893" r="11.1" fill="#fff500"/>
<circle cx="735.6" cy="912" r="11.1" fill="#fff500"/>
<circle cx="755.1" cy="914.4" r="11.1" fill="#fff500"/>
<circle cx="755.1" cy="1069.1" r="11.1" fill="#fff500"/>
</g>
<text transform="translate(202.3 1145.2) scale(1 1.09)" font-family="'Liberation Sans', Arial, sans-serif" font-size="30.5" text-anchor="end">0</text>
<text transform="translate(202.3 1064.5) scale(1 1.09)" font-family="'Liberation Sans', Arial, sans-serif" font-size="30.5" text-anchor="end">1</text>
<text transform="translate(202.3 983.8) scale(1 1.09)" font-family="'Liberation Sans', Arial, sans-serif" font-size="30.5" text-anchor="end">2</text>
<text transform="translate(202.3 903) scale(1 1.09)" font-family="'Liberation Sans', Arial, sans-serif" font-size="30.5" text-anchor="end">3</text>
<text transform="translate(202.3 822.3) scale(1 1.09)" font-family="'Liberation Sans', Arial, sans-serif" font-size="30.5" text-anchor="end">4</text>
<text transform="translate(202.3 741.6) scale(1 1.09)" font-family="'Liberation Sans', Arial, sans-serif" font-size="30.5" text-anchor="end">5</text>
<text transform="translate(130.9 931.5) rotate(-90)" font-family="'Liberation Serif', 'Times New Roman', serif" font-size="29.6" text-anchor="middle">Protein counts</text>
<text transform="translate(171.2 931.5) rotate(-90)" font-family="'Liberation Serif', 'Times New Roman', serif" font-size="29.6" text-anchor="middle">(Log2)</text>
<text x="516.9" y="672.3" font-family="'Liberation Serif', 'Times New Roman', serif" font-size="33" text-anchor="middle">CSTB</text>
<text x="75" y="695.3" font-family="'Liberation Sans', Arial, sans-serif" font-size="32.5" font-weight="bold">B</text>
<text transform="translate(285.1 1166.3) rotate(-45)" font-family="'Liberation Serif', 'Times New Roman', serif" font-size="30.5" text-anchor="end">Mo6h</text>
<text transform="translate(380.6 1166.3) rotate(-45)" font-family="'Liberation Serif', 'Times New Roman', serif" font-size="30.5" font-style="italic" text-anchor="end">La6h</text>
<text transform="translate(476.2 1166.3) rotate(-45)" font-family="'Liberation Serif', 'Times New Roman', serif" font-size="30.5" font-style="italic" text-anchor="end">Lm6h</text>
<text transform="translate(571.4 1166.3) rotate(-45)" font-family="'Liberation Serif', 'Times New Roman', serif" font-size="30.5" text-anchor="end">Mo24h</text>
<text transform="translate(667 1166.3) rotate(-45)" font-family="'Liberation Serif', 'Times New Roman', serif" font-size="30.5" font-style="italic" text-anchor="end">La24h</text>
<text transform="translate(762.2 1166.3) rotate(-45)" font-family="'Liberation Serif', 'Times New Roman', serif" font-size="30.5" font-style="italic" text-anchor="end">Lm24h</text>
<g stroke="#000" stroke-width="2.2" fill="none">
<line x1="984.3" y1="728.8" x2="984.3" y2="1132.4"/>
<line x1="973.8" y1="1132.4" x2="1588.9" y2="1132.4"/>
<line x1="973.8" y1="1132.4" x2="984.3" y2="1132.4"/>
<line x1="973.8" y1="1031.7" x2="984.3" y2="1031.7"/>
<line x1="973.8" y1="931.1" x2="984.3" y2="931.1"/>
<line x1="973.8" y1="830.4" x2="984.3" y2="830.4"/>
<line x1="973.8" y1="729.7" x2="984.3" y2="729.7"/>
<line x1="1048" y1="1132.4" x2="1048" y2="1143.4"/>
<line x1="1143.1" y1="1132.4" x2="1143.1" y2="1143.4"/>
<line x1="1238.7" y1="1132.4" x2="1238.7" y2="1143.4"/>
<line x1="1333.8" y1="1132.4" x2="1333.8" y2="1143.4"/>
<line x1="1428.9" y1="1132.4" x2="1428.9" y2="1143.4"/>
<line x1="1524.4" y1="1132.4" x2="1524.4" y2="1143.4"/>
<line x1="1048" y1="804.5" x2="1048" y2="850.1"/>
<line x1="1048" y1="1047.6" x2="1048" y2="1082.3"/>
<line x1="1031.5" y1="804.5" x2="1064.5" y2="804.5"/>
<line x1="1031.5" y1="1082.3" x2="1064.5" y2="1082.3"/>
<rect x="1016.2" y="850.1" width="63.6" height="197.5" fill="none"/>
<line x1="1016.2" y1="898.5" x2="1079.8" y2="898.5"/>
<line x1="1143.1" y1="752.3" x2="1143.1" y2="853.2"/>
<line x1="1143.1" y1="943.6" x2="1143.1" y2="986.1"/>
<line x1="1126.6" y1="752.3" x2="1159.6" y2="752.3"/>
<line x1="1126.6" y1="986.1" x2="1159.6" y2="986.1"/>
<rect x="1111.3" y="853.2" width="63.6" height="90.4" fill="none"/>
<line x1="1111.3" y1="896.1" x2="1174.9" y2="896.1"/>
<line x1="1238.7" y1="853.2" x2="1238.7" y2="854.1"/>
<line x1="1238.7" y1="1067.7" x2="1238.7" y2="1070"/>
<line x1="1222.2" y1="853.2" x2="1255.2" y2="853.2"/>
<line x1="1222.2" y1="1070" x2="1255.2" y2="1070"/>
<rect x="1206.9" y="854.1" width="63.6" height="213.6" fill="none"/>
<line x1="1206.9" y1="971.9" x2="1270.5" y2="971.9"/>
<line x1="1333.8" y1="938.7" x2="1333.8" y2="952.7"/>
<line x1="1333.8" y1="1070" x2="1333.8" y2="1083.2"/>
<line x1="1317.3" y1="938.7" x2="1350.3" y2="938.7"/>
<line x1="1317.3" y1="1083.2" x2="1350.3" y2="1083.2"/>
<rect x="1302" y="952.7" width="63.6" height="117.3" fill="none"/>
<line x1="1302" y1="1059.5" x2="1365.6" y2="1059.5"/>
<line x1="1428.9" y1="917.7" x2="1428.9" y2="1028.8"/>
<line x1="1428.9" y1="1066.8" x2="1428.9" y2="1131.6"/>
<line x1="1412.4" y1="917.7" x2="1445.4" y2="917.7"/>
<line x1="1412.4" y1="1131.6" x2="1445.4" y2="1131.6"/>
<rect x="1397.1" y="1028.8" width="63.6" height="38" fill="none"/>
<line x1="1397.1" y1="1060" x2="1460.7" y2="1060"/>
<line x1="1524.4" y1="971.9" x2="1524.4" y2="1050.4"/>
<line x1="1524.4" y1="1076.3" x2="1524.4" y2="1090.5"/>
<line x1="1507.9" y1="971.9" x2="1540.9" y2="971.9"/>
<line x1="1507.9" y1="1090.5" x2="1540.9" y2="1090.5"/>
<rect x="1492.6" y="1050.4" width="63.6" height="25.9" fill="none"/>
<line x1="1492.6" y1="1065.5" x2="1556.2" y2="1065.5"/>
</g>
<g stroke="#000" stroke-width="2">
<circle cx="1047.8" cy="804.5" r="11.1" fill="#00f8f8"/>
<circle cx="1059.9" cy="833.5" r="11.1" fill="#00f8f8"/>
<circle cx="1036" cy="862" r="11.1" fill="#00f8f8"/>
<circle cx="1023.4" cy="855.4" r="11.1" fill="#00f8f8"/>
<circle cx="1059.9" cy="886.1" r="11.1" fill="#00f8f8"/>
<circle cx="1059.9" cy="910.7" r="11.1" fill="#00f8f8"/>
<circle cx="1036" cy="923" r="11.1" fill="#00f8f8"/>
<circle cx="1047.8" cy="1043.1" r="11.1" fill="#00f8f8"/>
<circle cx="1059.9" cy="1060.4" r="11.1" fill="#00f8f8"/>
<circle cx="1036" cy="1082.3" r="11.1" fill="#00f8f8"/>
<circle cx="1143.3" cy="752.3" r="11.1" fill="#f52a00"/>
<circle cx="1123.7" cy="854.5" r="11.1" fill="#f52a00"/>
<circle cx="1143.3" cy="856.5" r="11.1" fill="#f52a00"/>
<circle cx="1163" cy="848.7" r="11.1" fill="#f52a00"/>
<circle cx="1123.7" cy="893.8" r="11.1" fill="#f52a00"/>
<circle cx="1143.3" cy="898.9" r="11.1" fill="#f52a00"/>
<circle cx="1163" cy="894.7" r="11.1" fill="#f52a00"/>
<circle cx="1131" cy="938.5" r="11.1" fill="#f52a00"/>
<circle cx="1155.5" cy="959.5" r="11.1" fill="#f52a00"/>
<circle cx="1143.3" cy="986.1" r="11.1" fill="#f52a00"/>
<circle cx="1218.8" cy="853.2" r="11.1" fill="#10ee10"/>
<circle cx="1238.5" cy="853.6" r="11.1" fill="#10ee10"/>
<circle cx="1258.4" cy="853.2" r="11.1" fill="#10ee10"/>
<circle cx="1250.6" cy="898" r="11.1" fill="#10ee10"/>
<circle cx="1226.5" cy="915.3" r="11.1" fill="#10ee10"/>
<circle cx="1226.5" cy="1028.5" r="11.1" fill="#10ee10"/>
<circle cx="1250.6" cy="1037.2" r="11.1" fill="#10ee10"/>
<circle cx="1218.8" cy="1066.8" r="11.1" fill="#10ee10"/>
<circle cx="1258.4" cy="1070.4" r="11.1" fill="#10ee10"/>
<circle cx="1238.5" cy="1075" r="11.1" fill="#10ee10"/>
<circle cx="1314.1" cy="938.1" r="11.1" fill="#0a3cf0"/>
<circle cx="1334.2" cy="952.7" r="11.1" fill="#0a3cf0"/>
<circle cx="1353.4" cy="946.3" r="11.1" fill="#0a3cf0"/>
<circle cx="1309.5" cy="1044.9" r="11.1" fill="#0a3cf0"/>
<circle cx="1357.9" cy="1047.6" r="11.1" fill="#0a3cf0"/>
<circle cx="1344.2" cy="1058.6" r="11.1" fill="#0a3cf0"/>
<circle cx="1317.4" cy="1070" r="11.1" fill="#0a3cf0"/>
<circle cx="1321.8" cy="1059.8" r="11.1" fill="#0a3cf0"/>
<circle cx="1349.7" cy="1066.8" r="11.1" fill="#0a3cf0"/>
<circle cx="1338.8" cy="1082.3" r="11.1" fill="#0a3cf0"/>
<circle cx="1328.7" cy="1083.2" r="11.1" fill="#0a3cf0"/>
<circle cx="1428.9" cy="917.7" r="11.1" fill="#f545f5"/>
<circle cx="1428.9" cy="967.3" r="11.1" fill="#f545f5"/>
<circle cx="1428.9" cy="1028.8" r="11.1" fill="#f545f5"/>
<circle cx="1441.1" cy="1050.4" r="11.1" fill="#f545f5"/>
<circle cx="1409.2" cy="1067.7" r="11.1" fill="#f545f5"/>
<circle cx="1423.8" cy="1061.3" r="11.1" fill="#f545f5"/>
<circle cx="1436.6" cy="1060.4" r="11.1" fill="#f545f5"/>
<circle cx="1416.5" cy="1055.8" r="11.1" fill="#f545f5"/>
<circle cx="1448.4" cy="1061.3" r="11.1" fill="#f545f5"/>
<circle cx="1428.9" cy="1085.9" r="11.1" fill="#f545f5"/>
<circle cx="1428.9" cy="1131.6" r="11.1" fill="#f545f5"/>
<circle cx="1511.8" cy="972.8" r="11.1" fill="#fff500"/>
<circle cx="1536.6" cy="971" r="11.1" fill="#fff500"/>
<circle cx="1504.7" cy="1051.3" r="11.1" fill="#fff500"/>
<circle cx="1543.9" cy="1049.4" r="11.1" fill="#fff500"/>
<circle cx="1524.7" cy="1059.5" r="11.1" fill="#fff500"/>
<circle cx="1536.6" cy="1064" r="11.1" fill="#fff500"/>
<circle cx="1507.4" cy="1077.7" r="11.1" fill="#fff500"/>
<circle cx="1530.6" cy="1085.9" r="11.1" fill="#fff500"/>
<circle cx="1519.1" cy="1090.5" r="11.1" fill="#fff500"/>
<circle cx="1511.8" cy="1070.4" r="11.1" fill="#fff500"/>
<circle cx="1540.6" cy="1070.4" r="11.1" fill="#fff500"/>
</g>
<text transform="translate(972 1144.3) scale(1 1.09)" font-family="'Liberation Sans', Arial, sans-serif" font-size="30.5" text-anchor="end">0</text>
<text transform="translate(972 1043.6) scale(1 1.09)" font-family="'Liberation Sans', Arial, sans-serif" font-size="30.5" text-anchor="end">1</text>
<text transform="translate(972 943) scale(1 1.09)" font-family="'Liberation Sans', Arial, sans-serif" font-size="30.5" text-anchor="end">2</text>
<text transform="translate(972 842.3) scale(1 1.09)" font-family="'Liberation Sans', Arial, sans-serif" font-size="30.5" text-anchor="end">3</text>
<text transform="translate(972 741.6) scale(1 1.09)" font-family="'Liberation Sans', Arial, sans-serif" font-size="30.5" text-anchor="end">4</text>
<text transform="translate(903.5 931.1) rotate(-90)" font-family="'Liberation Serif', 'Times New Roman', serif" font-size="29.6" text-anchor="middle">Protein counts</text>
<text transform="translate(943.6 931.1) rotate(-90)" font-family="'Liberation Serif', 'Times New Roman', serif" font-size="29.6" text-anchor="middle">(Log2)</text>
<text x="1286.6" y="672.3" font-family="'Liberation Serif', 'Times New Roman', serif" font-size="33" text-anchor="middle">SQSTM1</text>
<text x="880" y="695.3" font-family="'Liberation Sans', Arial, sans-serif" font-size="32.5" font-weight="bold">C</text>
<text transform="translate(1055 1165.4) rotate(-45)" font-family="'Liberation Serif', 'Times New Roman', serif" font-size="30.5" text-anchor="end">Mo6h</text>
<text transform="translate(1150.1 1165.4) rotate(-45)" font-family="'Liberation Serif', 'Times New Roman', serif" font-size="30.5" font-style="italic" text-anchor="end">La6h</text>
<text transform="translate(1245.7 1165.4) rotate(-45)" font-family="'Liberation Serif', 'Times New Roman', serif" font-size="30.5" font-style="italic" text-anchor="end">Lm6h</text>
<text transform="translate(1340.8 1165.4) rotate(-45)" font-family="'Liberation Serif', 'Times New Roman', serif" font-size="30.5" text-anchor="end">Mo24h</text>
<text transform="translate(1435.9 1165.4) rotate(-45)" font-family="'Liberation Serif', 'Times New Roman', serif" font-size="30.5" font-style="italic" text-anchor="end">La24h</text>
<text transform="translate(1531.4 1165.4) rotate(-45)" font-family="'Liberation Serif', 'Times New Roman', serif" font-size="30.5" font-style="italic" text-anchor="end">Lm24h</text>
<g stroke="#000" stroke-width="2.2" fill="none">
<line x1="211.2" y1="1342" x2="211.2" y2="1748.6"/>
<line x1="200.7" y1="1748.6" x2="819.8" y2="1748.6"/>
<line x1="200.7" y1="1748.6" x2="211.2" y2="1748.6"/>
<line x1="200.7" y1="1667.5" x2="211.2" y2="1667.5"/>
<line x1="200.7" y1="1586.3" x2="211.2" y2="1586.3"/>
<line x1="200.7" y1="1505.2" x2="211.2" y2="1505.2"/>
<line x1="200.7" y1="1424" x2="211.2" y2="1424"/>
<line x1="200.7" y1="1342.9" x2="211.2" y2="1342.9"/>
<line x1="275.1" y1="1748.6" x2="275.1" y2="1759.6"/>
<line x1="371.1" y1="1748.6" x2="371.1" y2="1759.6"/>
<line x1="467" y1="1748.6" x2="467" y2="1759.6"/>
<line x1="563" y1="1748.6" x2="563" y2="1759.6"/>
<line x1="658.9" y1="1748.6" x2="658.9" y2="1759.6"/>
<line x1="754.8" y1="1748.6" x2="754.8" y2="1759.6"/>
<line x1="275.1" y1="1550.7" x2="275.1" y2="1565.9"/>
<line x1="275.1" y1="1709.2" x2="275.1" y2="1713.7"/>
<line x1="258.6" y1="1550.7" x2="291.6" y2="1550.7"/>
<line x1="258.6" y1="1713.7" x2="291.6" y2="1713.7"/>
<rect x="243.3" y="1565.9" width="63.6" height="143.3" fill="none"/>
<line x1="243.3" y1="1684" x2="306.9" y2="1684"/>
<line x1="371.1" y1="1416.6" x2="371.1" y2="1471.5"/>
<line x1="371.1" y1="1546.2" x2="371.1" y2="1586.9"/>
<line x1="354.6" y1="1416.6" x2="387.6" y2="1416.6"/>
<line x1="354.6" y1="1586.9" x2="387.6" y2="1586.9"/>
<rect x="339.3" y="1471.5" width="63.6" height="74.7" fill="none"/>
<line x1="339.3" y1="1510.6" x2="402.9" y2="1510.6"/>
<line x1="467" y1="1444.5" x2="467" y2="1477"/>
<line x1="467" y1="1571.4" x2="467" y2="1607.9"/>
<line x1="450.5" y1="1444.5" x2="483.5" y2="1444.5"/>
<line x1="450.5" y1="1607.9" x2="483.5" y2="1607.9"/>
<rect x="435.2" y="1477" width="63.6" height="94.4" fill="none"/>
<line x1="435.2" y1="1508.9" x2="498.8" y2="1508.9"/>
<line x1="563" y1="1579.6" x2="563" y2="1627.9"/>
<line x1="563" y1="1690" x2="563" y2="1698.2"/>
<line x1="546.5" y1="1579.6" x2="579.5" y2="1579.6"/>
<line x1="546.5" y1="1698.2" x2="579.5" y2="1698.2"/>
<rect x="531.2" y="1627.9" width="63.6" height="62.1" fill="none"/>
<line x1="531.2" y1="1680" x2="594.8" y2="1680"/>
<line x1="658.9" y1="1522.4" x2="658.9" y2="1542.2"/>
<line x1="658.9" y1="1630.1" x2="658.9" y2="1691.5"/>
<line x1="642.4" y1="1522.4" x2="675.4" y2="1522.4"/>
<line x1="642.4" y1="1691.5" x2="675.4" y2="1691.5"/>
<rect x="627.1" y="1542.2" width="63.6" height="87.9" fill="none"/>
<line x1="627.1" y1="1606.6" x2="690.7" y2="1606.6"/>
<line x1="754.8" y1="1476.4" x2="754.8" y2="1549.5"/>
<line x1="754.8" y1="1684.1" x2="754.8" y2="1698.7"/>
<line x1="738.3" y1="1476.4" x2="771.3" y2="1476.4"/>
<line x1="738.3" y1="1698.7" x2="771.3" y2="1698.7"/>
<rect x="723" y="1549.5" width="63.6" height="134.6" fill="none"/>
<line x1="723" y1="1571.4" x2="786.6" y2="1571.4"/>
</g>
<g stroke="#000" stroke-width="2">
<circle cx="287" cy="1550" r="11.1" fill="#00f8f8"/>
<circle cx="262.4" cy="1563.1" r="11.1" fill="#00f8f8"/>
<circle cx="266.6" cy="1573.2" r="11.1" fill="#00f8f8"/>
<circle cx="283" cy="1566.4" r="11.1" fill="#00f8f8"/>
<circle cx="274.6" cy="1676.3" r="11.1" fill="#00f8f8"/>
<circle cx="254.6" cy="1690.9" r="11.1" fill="#00f8f8"/>
<circle cx="294.7" cy="1699.1" r="11.1" fill="#00f8f8"/>
<circle cx="264.2" cy="1708.2" r="11.1" fill="#00f8f8"/>
<circle cx="285.2" cy="1708.2" r="11.1" fill="#00f8f8"/>
<circle cx="274.6" cy="1713.7" r="11.1" fill="#00f8f8"/>
<circle cx="370.6" cy="1416.6" r="11.1" fill="#f52a00"/>
<circle cx="370.6" cy="1442.7" r="11.1" fill="#f52a00"/>
<circle cx="350.9" cy="1481" r="11.1" fill="#f52a00"/>
<circle cx="390.5" cy="1484.7" r="11.1" fill="#f52a00"/>
<circle cx="370.6" cy="1497.1" r="11.1" fill="#f52a00"/>
<circle cx="358.6" cy="1524.8" r="11.1" fill="#f52a00"/>
<circle cx="382.9" cy="1527" r="11.1" fill="#f52a00"/>
<circle cx="379.2" cy="1547.1" r="11.1" fill="#f52a00"/>
<circle cx="362.3" cy="1545.8" r="11.1" fill="#f52a00"/>
<circle cx="370.6" cy="1586.9" r="11.1" fill="#f52a00"/>
<circle cx="466.8" cy="1444.5" r="11.1" fill="#10ee10"/>
<circle cx="446.9" cy="1477" r="11.1" fill="#10ee10"/>
<circle cx="466.8" cy="1477" r="11.1" fill="#10ee10"/>
<circle cx="486.7" cy="1476.4" r="11.1" fill="#10ee10"/>
<circle cx="478.9" cy="1502.9" r="11.1" fill="#10ee10"/>
<circle cx="454.6" cy="1514.2" r="11.1" fill="#10ee10"/>
<circle cx="446.9" cy="1570.8" r="11.1" fill="#10ee10"/>
<circle cx="466.8" cy="1574.1" r="11.1" fill="#10ee10"/>
<circle cx="486.7" cy="1567.7" r="11.1" fill="#10ee10"/>
<circle cx="466.8" cy="1607.9" r="11.1" fill="#10ee10"/>
<circle cx="562.8" cy="1579.6" r="11.1" fill="#0a3cf0"/>
<circle cx="575.2" cy="1615.2" r="11.1" fill="#0a3cf0"/>
<circle cx="550.4" cy="1627.9" r="11.1" fill="#0a3cf0"/>
<circle cx="562.8" cy="1674.5" r="11.1" fill="#0a3cf0"/>
<circle cx="542.8" cy="1679" r="11.1" fill="#0a3cf0"/>
<circle cx="582.9" cy="1680" r="11.1" fill="#0a3cf0"/>
<circle cx="553.7" cy="1691.8" r="11.1" fill="#0a3cf0"/>
<circle cx="549.7" cy="1680.9" r="11.1" fill="#0a3cf0"/>
<circle cx="569.2" cy="1690.9" r="11.1" fill="#0a3cf0"/>
<circle cx="562.8" cy="1699.1" r="11.1" fill="#0a3cf0"/>
<circle cx="678" cy="1522.4" r="11.1" fill="#f545f5"/>
<circle cx="638.8" cy="1536.7" r="11.1" fill="#f545f5"/>
<circle cx="658.8" cy="1542.2" r="11.1" fill="#f545f5"/>
<circle cx="671.1" cy="1562.2" r="11.1" fill="#f545f5"/>
<circle cx="646.6" cy="1567.7" r="11.1" fill="#f545f5"/>
<circle cx="650.6" cy="1617" r="11.1" fill="#f545f5"/>
<circle cx="646.6" cy="1606" r="11.1" fill="#f545f5"/>
<circle cx="671.1" cy="1608.8" r="11.1" fill="#f545f5"/>
<circle cx="667.1" cy="1630.7" r="11.1" fill="#f545f5"/>
<circle cx="671.1" cy="1667.5" r="11.1" fill="#f545f5"/>
<circle cx="646.6" cy="1691.5" r="11.1" fill="#f545f5"/>
<circle cx="754.7" cy="1476.4" r="11.1" fill="#fff500"/>
<circle cx="742.8" cy="1553.1" r="11.1" fill="#fff500"/>
<circle cx="767.1" cy="1548.9" r="11.1" fill="#fff500"/>
<circle cx="754.7" cy="1538.5" r="11.1" fill="#fff500"/>
<circle cx="763.4" cy="1567.2" r="11.1" fill="#fff500"/>
<circle cx="746.4" cy="1571.4" r="11.1" fill="#fff500"/>
<circle cx="742.8" cy="1586.9" r="11.1" fill="#fff500"/>
<circle cx="767.1" cy="1609.1" r="11.1" fill="#fff500"/>
<circle cx="735" cy="1684" r="11.1" fill="#fff500"/>
<circle cx="754.7" cy="1699.1" r="11.1" fill="#fff500"/>
<circle cx="774.4" cy="1698.2" r="11.1" fill="#fff500"/>
</g>
<text transform="translate(198.9 1760.5) scale(1 1.09)" font-family="'Liberation Sans', Arial, sans-serif" font-size="30.5" text-anchor="end">0</text>
<text transform="translate(198.9 1679.4) scale(1 1.09)" font-family="'Liberation Sans', Arial, sans-serif" font-size="30.5" text-anchor="end">1</text>
<text transform="translate(198.9 1598.2) scale(1 1.09)" font-family="'Liberation Sans', Arial, sans-serif" font-size="30.5" text-anchor="end">2</text>
<text transform="translate(198.9 1517.1) scale(1 1.09)" font-family="'Liberation Sans', Arial, sans-serif" font-size="30.5" text-anchor="end">3</text>
<text transform="translate(198.9 1435.9) scale(1 1.09)" font-family="'Liberation Sans', Arial, sans-serif" font-size="30.5" text-anchor="end">4</text>
<text transform="translate(198.9 1354.8) scale(1 1.09)" font-family="'Liberation Sans', Arial, sans-serif" font-size="30.5" text-anchor="end">5</text>
<text transform="translate(130.9 1545.8) rotate(-90)" font-family="'Liberation Serif', 'Times New Roman', serif" font-size="29.6" text-anchor="middle">Protein counts</text>
<text transform="translate(171.2 1545.8) rotate(-90)" font-family="'Liberation Serif', 'Times New Roman', serif" font-size="29.6" text-anchor="middle">(Log2)</text>
<text x="515.5" y="1285.5" font-family="'Liberation Serif', 'Times New Roman', serif" font-size="33" text-anchor="middle">TUBA8</text>
<text x="75" y="1300.7" font-family="'Liberation Sans', Arial, sans-serif" font-size="32.5" font-weight="bold">D</text>
<text transform="translate(282.1 1781.6) rotate(-45)" font-family="'Liberation Serif', 'Times New Roman', serif" font-size="30.5" text-anchor="end">Mo6h</text>
<text transform="translate(378.1 1781.6) rotate(-45)" font-family="'Liberation Serif', 'Times New Roman', serif" font-size="30.5" font-style="italic" text-anchor="end">La6h</text>
<text transform="translate(474 1781.6) rotate(-45)" font-family="'Liberation Serif', 'Times New Roman', serif" font-size="30.5" font-style="italic" text-anchor="end">Lm6h</text>
<text transform="translate(570 1781.6) rotate(-45)" font-family="'Liberation Serif', 'Times New Roman', serif" font-size="30.5" text-anchor="end">Mo24h</text>
<text transform="translate(665.9 1781.6) rotate(-45)" font-family="'Liberation Serif', 'Times New Roman', serif" font-size="30.5" font-style="italic" text-anchor="end">La24h</text>
<text transform="translate(761.8 1781.6) rotate(-45)" font-family="'Liberation Serif', 'Times New Roman', serif" font-size="30.5" font-style="italic" text-anchor="end">Lm24h</text>
<g stroke="#000" stroke-width="2.2" fill="none">
<line x1="983.9" y1="1342" x2="983.9" y2="1748.6"/>
<line x1="973.4" y1="1748.6" x2="1591.8" y2="1748.6"/>
<line x1="973.4" y1="1748.6" x2="983.9" y2="1748.6"/>
<line x1="973.4" y1="1647.2" x2="983.9" y2="1647.2"/>
<line x1="973.4" y1="1545.8" x2="983.9" y2="1545.8"/>
<line x1="973.4" y1="1444.3" x2="983.9" y2="1444.3"/>
<line x1="973.4" y1="1342.9" x2="983.9" y2="1342.9"/>
<line x1="1048" y1="1748.6" x2="1048" y2="1759.6"/>
<line x1="1144" y1="1748.6" x2="1144" y2="1759.6"/>
<line x1="1239.9" y1="1748.6" x2="1239.9" y2="1759.6"/>
<line x1="1335.8" y1="1748.6" x2="1335.8" y2="1759.6"/>
<line x1="1431.8" y1="1748.6" x2="1431.8" y2="1759.6"/>
<line x1="1527.7" y1="1748.6" x2="1527.7" y2="1759.6"/>
<line x1="1048" y1="1529" x2="1048" y2="1572.3"/>
<line x1="1048" y1="1677.2" x2="1048" y2="1687.3"/>
<line x1="1031.5" y1="1529" x2="1064.5" y2="1529"/>
<line x1="1031.5" y1="1687.3" x2="1064.5" y2="1687.3"/>
<rect x="1016.2" y="1572.3" width="63.6" height="104.9" fill="none"/>
<line x1="1016.2" y1="1600" x2="1079.8" y2="1600"/>
<line x1="1144" y1="1597.8" x2="1144" y2="1643.5"/>
<line x1="1144" y1="1674.5" x2="1144" y2="1702.8"/>
<line x1="1127.5" y1="1597.8" x2="1160.5" y2="1597.8"/>
<line x1="1127.5" y1="1702.8" x2="1160.5" y2="1702.8"/>
<rect x="1112.2" y="1643.5" width="63.6" height="31" fill="none"/>
<line x1="1112.2" y1="1670.8" x2="1175.8" y2="1670.8"/>
<line x1="1239.9" y1="1530.3" x2="1239.9" y2="1630.3"/>
<line x1="1239.9" y1="1675.9" x2="1239.9" y2="1687.3"/>
<line x1="1223.4" y1="1530.3" x2="1256.4" y2="1530.3"/>
<line x1="1223.4" y1="1687.3" x2="1256.4" y2="1687.3"/>
<rect x="1208.1" y="1630.3" width="63.6" height="45.6" fill="none"/>
<line x1="1208.1" y1="1670.8" x2="1271.7" y2="1670.8"/>
<line x1="1335.8" y1="1515.7" x2="1335.8" y2="1553.7"/>
<line x1="1335.8" y1="1662.6" x2="1335.8" y2="1668.6"/>
<line x1="1319.3" y1="1515.7" x2="1352.3" y2="1515.7"/>
<line x1="1319.3" y1="1668.6" x2="1352.3" y2="1668.6"/>
<rect x="1304" y="1553.7" width="63.6" height="108.9" fill="none"/>
<line x1="1304" y1="1581.8" x2="1367.6" y2="1581.8"/>
<line x1="1431.8" y1="1413.8" x2="1431.8" y2="1511.7"/>
<line x1="1431.8" y1="1588.3" x2="1431.8" y2="1644.7"/>
<line x1="1415.3" y1="1413.8" x2="1448.3" y2="1413.8"/>
<line x1="1415.3" y1="1644.7" x2="1448.3" y2="1644.7"/>
<rect x="1400" y="1511.7" width="63.6" height="76.6" fill="none"/>
<line x1="1400" y1="1523" x2="1463.6" y2="1523"/>
<line x1="1527.7" y1="1453.6" x2="1527.7" y2="1489.8"/>
<line x1="1527.7" y1="1601.5" x2="1527.7" y2="1666.3"/>
<line x1="1511.2" y1="1453.6" x2="1544.2" y2="1453.6"/>
<line x1="1511.2" y1="1666.3" x2="1544.2" y2="1666.3"/>
<rect x="1495.9" y="1489.8" width="63.6" height="111.7" fill="none"/>
<line x1="1495.9" y1="1574.1" x2="1559.5" y2="1574.1"/>
</g>
<g stroke="#000" stroke-width="2">
<circle cx="1047.5" cy="1529" r="11.1" fill="#00f8f8"/>
<circle cx="1035.2" cy="1557.3" r="11.1" fill="#00f8f8"/>
<circle cx="1059.7" cy="1577.4" r="11.1" fill="#00f8f8"/>
<circle cx="1027.7" cy="1597.5" r="11.1" fill="#00f8f8"/>
<circle cx="1067.5" cy="1597.5" r="11.1" fill="#00f8f8"/>
<circle cx="1047.5" cy="1604.2" r="11.1" fill="#00f8f8"/>
<circle cx="1047.5" cy="1660.8" r="11.1" fill="#00f8f8"/>
<circle cx="1027.7" cy="1676.3" r="11.1" fill="#00f8f8"/>
<circle cx="1067.5" cy="1680.9" r="11.1" fill="#00f8f8"/>
<circle cx="1047.5" cy="1686.9" r="11.1" fill="#00f8f8"/>
<circle cx="1131" cy="1605.1" r="11.1" fill="#f52a00"/>
<circle cx="1155.5" cy="1597.5" r="11.1" fill="#f52a00"/>
<circle cx="1163.3" cy="1656.2" r="11.1" fill="#f52a00"/>
<circle cx="1123.7" cy="1669.9" r="11.1" fill="#f52a00"/>
<circle cx="1149.7" cy="1669" r="11.1" fill="#f52a00"/>
<circle cx="1130" cy="1671.7" r="11.1" fill="#f52a00"/>
<circle cx="1157.3" cy="1670.8" r="11.1" fill="#f52a00"/>
<circle cx="1136" cy="1673.6" r="11.1" fill="#f52a00"/>
<circle cx="1143.3" cy="1676.3" r="11.1" fill="#f52a00"/>
<circle cx="1143.3" cy="1702.8" r="11.1" fill="#f52a00"/>
<circle cx="1239.3" cy="1530.3" r="11.1" fill="#10ee10"/>
<circle cx="1239.3" cy="1589.1" r="11.1" fill="#10ee10"/>
<circle cx="1227.4" cy="1643.5" r="11.1" fill="#10ee10"/>
<circle cx="1263.9" cy="1652.6" r="11.1" fill="#10ee10"/>
<circle cx="1227.4" cy="1669" r="11.1" fill="#10ee10"/>
<circle cx="1257.5" cy="1670.8" r="11.1" fill="#10ee10"/>
<circle cx="1252" cy="1668.1" r="11.1" fill="#10ee10"/>
<circle cx="1222.9" cy="1674.1" r="11.1" fill="#10ee10"/>
<circle cx="1233.8" cy="1686.3" r="11.1" fill="#10ee10"/>
<circle cx="1244.8" cy="1682.7" r="11.1" fill="#10ee10"/>
<circle cx="1323.2" cy="1515.3" r="11.1" fill="#0a3cf0"/>
<circle cx="1347.9" cy="1525.7" r="11.1" fill="#0a3cf0"/>
<circle cx="1347.9" cy="1553.1" r="11.1" fill="#0a3cf0"/>
<circle cx="1310.8" cy="1559.5" r="11.1" fill="#0a3cf0"/>
<circle cx="1323.2" cy="1575.6" r="11.1" fill="#0a3cf0"/>
<circle cx="1347.9" cy="1581.4" r="11.1" fill="#0a3cf0"/>
<circle cx="1327.3" cy="1596.4" r="11.1" fill="#0a3cf0"/>
<circle cx="1343.7" cy="1597.8" r="11.1" fill="#0a3cf0"/>
<circle cx="1315.6" cy="1663.2" r="11.1" fill="#0a3cf0"/>
<circle cx="1335.5" cy="1668.6" r="11.1" fill="#0a3cf0"/>
<circle cx="1355.2" cy="1663.9" r="11.1" fill="#0a3cf0"/>
<circle cx="1431.5" cy="1413.8" r="11.1" fill="#f545f5"/>
<circle cx="1431.5" cy="1480.5" r="11.1" fill="#f545f5"/>
<circle cx="1421.1" cy="1523" r="11.1" fill="#f545f5"/>
<circle cx="1411" cy="1514.8" r="11.1" fill="#f545f5"/>
<circle cx="1440.2" cy="1517.2" r="11.1" fill="#f545f5"/>
<circle cx="1451.5" cy="1510.6" r="11.1" fill="#f545f5"/>
<circle cx="1431.5" cy="1533.6" r="11.1" fill="#f545f5"/>
<circle cx="1431.5" cy="1566.8" r="11.1" fill="#f545f5"/>
<circle cx="1419.2" cy="1588.3" r="11.1" fill="#f545f5"/>
<circle cx="1443.5" cy="1600.6" r="11.1" fill="#f545f5"/>
<circle cx="1431.5" cy="1644.7" r="11.1" fill="#f545f5"/>
<circle cx="1515.1" cy="1452.4" r="11.1" fill="#fff500"/>
<circle cx="1539.7" cy="1454.5" r="11.1" fill="#fff500"/>
<circle cx="1527.5" cy="1489.8" r="11.1" fill="#fff500"/>
<circle cx="1527.5" cy="1526.3" r="11.1" fill="#fff500"/>
<circle cx="1551.6" cy="1566.8" r="11.1" fill="#fff500"/>
<circle cx="1515.4" cy="1580.5" r="11.1" fill="#fff500"/>
<circle cx="1502.6" cy="1574.5" r="11.1" fill="#fff500"/>
<circle cx="1539.7" cy="1584.7" r="11.1" fill="#fff500"/>
<circle cx="1518.7" cy="1601.5" r="11.1" fill="#fff500"/>
<circle cx="1535.5" cy="1604.8" r="11.1" fill="#fff500"/>
<circle cx="1527.5" cy="1666.3" r="11.1" fill="#fff500"/>
</g>
<text transform="translate(971.6 1760.5) scale(1 1.09)" font-family="'Liberation Sans', Arial, sans-serif" font-size="30.5" text-anchor="end">0</text>
<text transform="translate(971.6 1659.1) scale(1 1.09)" font-family="'Liberation Sans', Arial, sans-serif" font-size="30.5" text-anchor="end">1</text>
<text transform="translate(971.6 1557.7) scale(1 1.09)" font-family="'Liberation Sans', Arial, sans-serif" font-size="30.5" text-anchor="end">2</text>
<text transform="translate(971.6 1456.2) scale(1 1.09)" font-family="'Liberation Sans', Arial, sans-serif" font-size="30.5" text-anchor="end">3</text>
<text transform="translate(971.6 1354.8) scale(1 1.09)" font-family="'Liberation Sans', Arial, sans-serif" font-size="30.5" text-anchor="end">4</text>
<text transform="translate(903.5 1545.8) rotate(-90)" font-family="'Liberation Serif', 'Times New Roman', serif" font-size="29.6" text-anchor="middle">Protein counts</text>
<text transform="translate(943.6 1545.8) rotate(-90)" font-family="'Liberation Serif', 'Times New Roman', serif" font-size="29.6" text-anchor="middle">(Log2)</text>
<text x="1287.8" y="1285.5" font-family="'Liberation Serif', 'Times New Roman', serif" font-size="33" text-anchor="middle">SF3B1</text>
<text x="880" y="1300.7" font-family="'Liberation Sans', Arial, sans-serif" font-size="32.5" font-weight="bold">E</text>
<text transform="translate(1055 1781.6) rotate(-45)" font-family="'Liberation Serif', 'Times New Roman', serif" font-size="30.5" text-anchor="end">Mo6h</text>
<text transform="translate(1151 1781.6) rotate(-45)" font-family="'Liberation Serif', 'Times New Roman', serif" font-size="30.5" font-style="italic" text-anchor="end">La6h</text>
<text transform="translate(1246.9 1781.6) rotate(-45)" font-family="'Liberation Serif', 'Times New Roman', serif" font-size="30.5" font-style="italic" text-anchor="end">Lm6h</text>
<text transform="translate(1342.8 1781.6) rotate(-45)" font-family="'Liberation Serif', 'Times New Roman', serif" font-size="30.5" text-anchor="end">Mo24h</text>
<text transform="translate(1438.8 1781.6) rotate(-45)" font-family="'Liberation Serif', 'Times New Roman', serif" font-size="30.5" font-style="italic" text-anchor="end">La24h</text>
<text transform="translate(1534.7 1781.6) rotate(-45)" font-family="'Liberation Serif', 'Times New Roman', serif" font-size="30.5" font-style="italic" text-anchor="end">Lm24h</text>
<g stroke="#000" stroke-width="2.2" fill="none">
<line x1="207.8" y1="1969.4" x2="207.8" y2="2378.2"/>
<line x1="197.3" y1="2378.2" x2="819.8" y2="2378.2"/>
<line x1="197.3" y1="2378.2" x2="207.8" y2="2378.2"/>
<line x1="197.3" y1="2276.2" x2="207.8" y2="2276.2"/>
<line x1="197.3" y1="2174.2" x2="207.8" y2="2174.2"/>
<line x1="197.3" y1="2072.3" x2="207.8" y2="2072.3"/>
<line x1="197.3" y1="1970.3" x2="207.8" y2="1970.3"/>
<line x1="271.8" y1="2378.2" x2="271.8" y2="2389.2"/>
<line x1="368.6" y1="2378.2" x2="368.6" y2="2389.2"/>
<line x1="464.9" y1="2378.2" x2="464.9" y2="2389.2"/>
<line x1="561.3" y1="2378.2" x2="561.3" y2="2389.2"/>
<line x1="658.1" y1="2378.2" x2="658.1" y2="2389.2"/>
<line x1="754.4" y1="2378.2" x2="754.4" y2="2389.2"/>
<line x1="271.8" y1="2121.1" x2="271.8" y2="2208.7"/>
<line x1="271.8" y1="2289" x2="271.8" y2="2353.4"/>
<line x1="255.3" y1="2121.1" x2="288.3" y2="2121.1"/>
<line x1="255.3" y1="2353.4" x2="288.3" y2="2353.4"/>
<rect x="240" y="2208.7" width="63.6" height="80.3" fill="none"/>
<line x1="240" y1="2266" x2="303.6" y2="2266"/>
<line x1="368.6" y1="2188" x2="368.6" y2="2215"/>
<line x1="368.6" y1="2313.6" x2="368.6" y2="2353.2"/>
<line x1="352.1" y1="2188" x2="385.1" y2="2188"/>
<line x1="352.1" y1="2353.2" x2="385.1" y2="2353.2"/>
<rect x="336.8" y="2215" width="63.6" height="98.6" fill="none"/>
<line x1="336.8" y1="2237.9" x2="400.4" y2="2237.9"/>
<line x1="464.9" y1="2156.6" x2="464.9" y2="2222.3"/>
<line x1="464.9" y1="2288" x2="464.9" y2="2348.3"/>
<line x1="448.4" y1="2156.6" x2="481.4" y2="2156.6"/>
<line x1="448.4" y1="2348.3" x2="481.4" y2="2348.3"/>
<rect x="433.1" y="2222.3" width="63.6" height="65.7" fill="none"/>
<line x1="433.1" y1="2253.9" x2="496.7" y2="2253.9"/>
<line x1="561.3" y1="2126.5" x2="561.3" y2="2140.6"/>
<line x1="561.3" y1="2203.7" x2="561.3" y2="2302.3"/>
<line x1="544.8" y1="2126.5" x2="577.8" y2="2126.5"/>
<line x1="544.8" y1="2302.3" x2="577.8" y2="2302.3"/>
<rect x="529.5" y="2140.6" width="63.6" height="63.1" fill="none"/>
<line x1="529.5" y1="2141" x2="593.1" y2="2141"/>
<line x1="658.1" y1="2065.9" x2="658.1" y2="2107.9"/>
<line x1="658.1" y1="2186.8" x2="658.1" y2="2303.9"/>
<line x1="641.6" y1="2065.9" x2="674.6" y2="2065.9"/>
<line x1="641.6" y1="2303.9" x2="674.6" y2="2303.9"/>
<rect x="626.3" y="2107.9" width="63.6" height="78.9" fill="none"/>
<line x1="626.3" y1="2153.9" x2="689.9" y2="2153.9"/>
<line x1="754.4" y1="2050.2" x2="754.4" y2="2102.8"/>
<line x1="754.4" y1="2218.7" x2="754.4" y2="2254.8"/>
<line x1="737.9" y1="2050.2" x2="770.9" y2="2050.2"/>
<line x1="737.9" y1="2254.8" x2="770.9" y2="2254.8"/>
<rect x="722.6" y="2102.8" width="63.6" height="115.9" fill="none"/>
<line x1="722.6" y1="2152.6" x2="786.2" y2="2152.6"/>
</g>
<g stroke="#000" stroke-width="2">
<circle cx="271.8" cy="2121.1" r="11.1" fill="#00f8f8"/>
<circle cx="271.8" cy="2189.5" r="11.1" fill="#00f8f8"/>
<circle cx="271.8" cy="2215" r="11.1" fill="#00f8f8"/>
<circle cx="271.8" cy="2241.5" r="11.1" fill="#00f8f8"/>
<circle cx="252.3" cy="2263.4" r="11.1" fill="#00f8f8"/>
<circle cx="271.8" cy="2271.6" r="11.1" fill="#00f8f8"/>
<circle cx="291.5" cy="2268" r="11.1" fill="#00f8f8"/>
<circle cx="259.2" cy="2283.5" r="11.1" fill="#00f8f8"/>
<circle cx="283.9" cy="2305.4" r="11.1" fill="#00f8f8"/>
<circle cx="271.8" cy="2353.4" r="11.1" fill="#00f8f8"/>
<circle cx="356" cy="2188" r="11.1" fill="#f52a00"/>
<circle cx="392.5" cy="2197.7" r="11.1" fill="#f52a00"/>
<circle cx="356" cy="2224.2" r="11.1" fill="#f52a00"/>
<circle cx="377" cy="2237" r="11.1" fill="#f52a00"/>
<circle cx="380.2" cy="2220.2" r="11.1" fill="#f52a00"/>
<circle cx="359.6" cy="2240.2" r="11.1" fill="#f52a00"/>
<circle cx="356" cy="2288.4" r="11.1" fill="#f52a00"/>
<circle cx="380.2" cy="2304.1" r="11.1" fill="#f52a00"/>
<circle cx="380.2" cy="2338.8" r="11.1" fill="#f52a00"/>
<circle cx="356" cy="2353.2" r="11.1" fill="#f52a00"/>
<circle cx="464.4" cy="2156.6" r="11.1" fill="#10ee10"/>
<circle cx="444.7" cy="2220.5" r="11.1" fill="#10ee10"/>
<circle cx="484.8" cy="2222.3" r="11.1" fill="#10ee10"/>
<circle cx="464.4" cy="2226.9" r="11.1" fill="#10ee10"/>
<circle cx="456.5" cy="2257.9" r="11.1" fill="#10ee10"/>
<circle cx="452.3" cy="2248.8" r="11.1" fill="#10ee10"/>
<circle cx="477.2" cy="2257.9" r="11.1" fill="#10ee10"/>
<circle cx="473" cy="2268.3" r="11.1" fill="#10ee10"/>
<circle cx="452.3" cy="2349.2" r="11.1" fill="#10ee10"/>
<circle cx="477.2" cy="2346.8" r="11.1" fill="#10ee10"/>
<circle cx="552.7" cy="2144.8" r="11.1" fill="#0a3cf0"/>
<circle cx="569.7" cy="2140.6" r="11.1" fill="#0a3cf0"/>
<circle cx="549.1" cy="2131.5" r="11.1" fill="#0a3cf0"/>
<circle cx="573.4" cy="2126.5" r="11.1" fill="#0a3cf0"/>
<circle cx="541.4" cy="2165.8" r="11.1" fill="#0a3cf0"/>
<circle cx="580.7" cy="2159.4" r="11.1" fill="#0a3cf0"/>
<circle cx="561.1" cy="2175.8" r="11.1" fill="#0a3cf0"/>
<circle cx="573.9" cy="2194.6" r="11.1" fill="#0a3cf0"/>
<circle cx="549.1" cy="2204.1" r="11.1" fill="#0a3cf0"/>
<circle cx="561.1" cy="2272.2" r="11.1" fill="#0a3cf0"/>
<circle cx="561.1" cy="2302.3" r="11.1" fill="#0a3cf0"/>
<circle cx="645.6" cy="2065.9" r="11.1" fill="#f545f5"/>
<circle cx="682.5" cy="2086.4" r="11.1" fill="#f545f5"/>
<circle cx="645.6" cy="2111" r="11.1" fill="#f545f5"/>
<circle cx="669.9" cy="2108.3" r="11.1" fill="#f545f5"/>
<circle cx="645.6" cy="2143" r="11.1" fill="#f545f5"/>
<circle cx="677.6" cy="2169.4" r="11.1" fill="#f545f5"/>
<circle cx="638" cy="2165.8" r="11.1" fill="#f545f5"/>
<circle cx="669.9" cy="2153.9" r="11.1" fill="#f545f5"/>
<circle cx="657.9" cy="2186.8" r="11.1" fill="#f545f5"/>
<circle cx="657.9" cy="2260.1" r="11.1" fill="#f545f5"/>
<circle cx="657.9" cy="2303.9" r="11.1" fill="#f545f5"/>
<circle cx="754.2" cy="2050.2" r="11.1" fill="#fff500"/>
<circle cx="754.2" cy="2077.6" r="11.1" fill="#fff500"/>
<circle cx="774.3" cy="2102.8" r="11.1" fill="#fff500"/>
<circle cx="734.7" cy="2111" r="11.1" fill="#fff500"/>
<circle cx="754.2" cy="2125.6" r="11.1" fill="#fff500"/>
<circle cx="734.7" cy="2152.6" r="11.1" fill="#fff500"/>
<circle cx="774.3" cy="2158.5" r="11.1" fill="#fff500"/>
<circle cx="754.2" cy="2172.7" r="11.1" fill="#fff500"/>
<circle cx="754.2" cy="2218.3" r="11.1" fill="#fff500"/>
<circle cx="766.5" cy="2236.6" r="11.1" fill="#fff500"/>
<circle cx="742" cy="2254.8" r="11.1" fill="#fff500"/>
</g>
<text transform="translate(195.5 2390.1) scale(1 1.09)" font-family="'Liberation Sans', Arial, sans-serif" font-size="30.5" text-anchor="end">0</text>
<text transform="translate(195.5 2288.1) scale(1 1.09)" font-family="'Liberation Sans', Arial, sans-serif" font-size="30.5" text-anchor="end">2</text>
<text transform="translate(195.5 2186.2) scale(1 1.09)" font-family="'Liberation Sans', Arial, sans-serif" font-size="30.5" text-anchor="end">4</text>
<text transform="translate(195.5 2084.2) scale(1 1.09)" font-family="'Liberation Sans', Arial, sans-serif" font-size="30.5" text-anchor="end">6</text>
<text transform="translate(195.5 1982.2) scale(1 1.09)" font-family="'Liberation Sans', Arial, sans-serif" font-size="30.5" text-anchor="end">8</text>
<text transform="translate(130.9 2174.2) rotate(-90)" font-family="'Liberation Serif', 'Times New Roman', serif" font-size="29.6" text-anchor="middle">Protein counts</text>
<text transform="translate(171.2 2174.2) rotate(-90)" font-family="'Liberation Serif', 'Times New Roman', serif" font-size="29.6" text-anchor="middle">(Log2)</text>
<text x="513.8" y="1912.9" font-family="'Liberation Serif', 'Times New Roman', serif" font-size="33" text-anchor="middle">ALB</text>
<text x="75" y="1927.7" font-family="'Liberation Sans', Arial, sans-serif" font-size="32.5" font-weight="bold">F</text>
<text transform="translate(278.8 2411.2) rotate(-45)" font-family="'Liberation Serif', 'Times New Roman', serif" font-size="30.5" text-anchor="end">Mo6h</text>
<text transform="translate(375.6 2411.2) rotate(-45)" font-family="'Liberation Serif', 'Times New Roman', serif" font-size="30.5" font-style="italic" text-anchor="end">La6h</text>
<text transform="translate(471.9 2411.2) rotate(-45)" font-family="'Liberation Serif', 'Times New Roman', serif" font-size="30.5" font-style="italic" text-anchor="end">Lm6h</text>
<text transform="translate(568.3 2411.2) rotate(-45)" font-family="'Liberation Serif', 'Times New Roman', serif" font-size="30.5" text-anchor="end">Mo24h</text>
<text transform="translate(665.1 2411.2) rotate(-45)" font-family="'Liberation Serif', 'Times New Roman', serif" font-size="30.5" font-style="italic" text-anchor="end">La24h</text>
<text transform="translate(761.4 2411.2) rotate(-45)" font-family="'Liberation Serif', 'Times New Roman', serif" font-size="30.5" font-style="italic" text-anchor="end">Lm24h</text>
<g stroke="#000" stroke-width="2.2" fill="none">
<line x1="983.1" y1="1969.4" x2="983.1" y2="2377.8"/>
<line x1="972.6" y1="2377.8" x2="1594.3" y2="2377.8"/>
<line x1="972.6" y1="2377.8" x2="983.1" y2="2377.8"/>
<line x1="972.6" y1="2242" x2="983.1" y2="2242"/>
<line x1="972.6" y1="2106.1" x2="983.1" y2="2106.1"/>
<line x1="972.6" y1="1970.3" x2="983.1" y2="1970.3"/>
<line x1="1048" y1="2377.8" x2="1048" y2="2388.8"/>
<line x1="1144.4" y1="2377.8" x2="1144.4" y2="2388.8"/>
<line x1="1240.7" y1="2377.8" x2="1240.7" y2="2388.8"/>
<line x1="1337.1" y1="2377.8" x2="1337.1" y2="2388.8"/>
<line x1="1433.4" y1="2377.8" x2="1433.4" y2="2388.8"/>
<line x1="1529.8" y1="2377.8" x2="1529.8" y2="2388.8"/>
<line x1="1048" y1="2033.9" x2="1048" y2="2053.8"/>
<line x1="1048" y1="2157.7" x2="1048" y2="2182.1"/>
<line x1="1031.5" y1="2033.9" x2="1064.5" y2="2033.9"/>
<line x1="1031.5" y1="2182.1" x2="1064.5" y2="2182.1"/>
<rect x="1016.2" y="2053.8" width="63.6" height="103.9" fill="none"/>
<line x1="1016.2" y1="2084.8" x2="1079.8" y2="2084.8"/>
<line x1="1144.4" y1="2074.4" x2="1144.4" y2="2100.6"/>
<line x1="1144.4" y1="2144.3" x2="1144.4" y2="2156.5"/>
<line x1="1127.9" y1="2074.4" x2="1160.9" y2="2074.4"/>
<line x1="1127.9" y1="2156.5" x2="1160.9" y2="2156.5"/>
<rect x="1112.6" y="2100.6" width="63.6" height="43.7" fill="none"/>
<line x1="1112.6" y1="2131" x2="1176.2" y2="2131"/>
<line x1="1240.7" y1="2068.8" x2="1240.7" y2="2107.7"/>
<line x1="1240.7" y1="2152.7" x2="1240.7" y2="2181.5"/>
<line x1="1224.2" y1="2068.8" x2="1257.2" y2="2068.8"/>
<line x1="1224.2" y1="2181.5" x2="1257.2" y2="2181.5"/>
<rect x="1208.9" y="2107.7" width="63.6" height="45" fill="none"/>
<line x1="1208.9" y1="2128.8" x2="1272.5" y2="2128.8"/>
<line x1="1337.1" y1="2078" x2="1337.1" y2="2101.4"/>
<line x1="1337.1" y1="2172" x2="1337.1" y2="2186.3"/>
<line x1="1320.6" y1="2078" x2="1353.6" y2="2078"/>
<line x1="1320.6" y1="2186.3" x2="1353.6" y2="2186.3"/>
<rect x="1305.3" y="2101.4" width="63.6" height="70.6" fill="none"/>
<line x1="1305.3" y1="2134.3" x2="1368.9" y2="2134.3"/>
<line x1="1433.4" y1="2108.9" x2="1433.4" y2="2152.4"/>
<line x1="1433.4" y1="2191.1" x2="1433.4" y2="2202.4"/>
<line x1="1416.9" y1="2108.9" x2="1449.9" y2="2108.9"/>
<line x1="1416.9" y1="2202.4" x2="1449.9" y2="2202.4"/>
<rect x="1401.6" y="2152.4" width="63.6" height="38.7" fill="none"/>
<line x1="1401.6" y1="2171.4" x2="1465.2" y2="2171.4"/>
<line x1="1529.8" y1="2081.9" x2="1529.8" y2="2147.6"/>
<line x1="1529.8" y1="2165.2" x2="1529.8" y2="2176.2"/>
<line x1="1513.3" y1="2081.9" x2="1546.3" y2="2081.9"/>
<line x1="1513.3" y1="2176.2" x2="1546.3" y2="2176.2"/>
<rect x="1498" y="2147.6" width="63.6" height="17.6" fill="none"/>
<line x1="1498" y1="2158" x2="1561.6" y2="2158"/>
</g>
<g stroke="#000" stroke-width="2">
<circle cx="1060.1" cy="2047.6" r="11.1" fill="#00f8f8"/>
<circle cx="1047.6" cy="2033.3" r="11.1" fill="#00f8f8"/>
<circle cx="1039.3" cy="2069" r="11.1" fill="#00f8f8"/>
<circle cx="1035.5" cy="2055.4" r="11.1" fill="#00f8f8"/>
<circle cx="1056" cy="2067.9" r="11.1" fill="#00f8f8"/>
<circle cx="1047.6" cy="2101.2" r="11.1" fill="#00f8f8"/>
<circle cx="1047.6" cy="2126.2" r="11.1" fill="#00f8f8"/>
<circle cx="1047.6" cy="2154.2" r="11.1" fill="#00f8f8"/>
<circle cx="1060.1" cy="2169" r="11.1" fill="#00f8f8"/>
<circle cx="1035.5" cy="2182.1" r="11.1" fill="#00f8f8"/>
<circle cx="1131.5" cy="2081.5" r="11.1" fill="#f52a00"/>
<circle cx="1156.2" cy="2073.8" r="11.1" fill="#f52a00"/>
<circle cx="1124.4" cy="2110.7" r="11.1" fill="#f52a00"/>
<circle cx="1163.7" cy="2106" r="11.1" fill="#f52a00"/>
<circle cx="1134.5" cy="2140.5" r="11.1" fill="#f52a00"/>
<circle cx="1144" cy="2125" r="11.1" fill="#f52a00"/>
<circle cx="1123.8" cy="2133.9" r="11.1" fill="#f52a00"/>
<circle cx="1164.3" cy="2137.5" r="11.1" fill="#f52a00"/>
<circle cx="1144" cy="2158.3" r="11.1" fill="#f52a00"/>
<circle cx="1154.2" cy="2154.2" r="11.1" fill="#f52a00"/>
<circle cx="1240.6" cy="2068.8" r="11.1" fill="#10ee10"/>
<circle cx="1253.1" cy="2098.8" r="11.1" fill="#10ee10"/>
<circle cx="1227.9" cy="2109.5" r="11.1" fill="#10ee10"/>
<circle cx="1232.3" cy="2122.6" r="11.1" fill="#10ee10"/>
<circle cx="1248.7" cy="2112.5" r="11.1" fill="#10ee10"/>
<circle cx="1221" cy="2135.1" r="11.1" fill="#10ee10"/>
<circle cx="1260.2" cy="2135.1" r="11.1" fill="#10ee10"/>
<circle cx="1253.1" cy="2161.3" r="11.1" fill="#10ee10"/>
<circle cx="1240.6" cy="2150.6" r="11.1" fill="#10ee10"/>
<circle cx="1227.9" cy="2181" r="11.1" fill="#10ee10"/>
<circle cx="1337" cy="2078" r="11.1" fill="#0a3cf0"/>
<circle cx="1356.7" cy="2084.5" r="11.1" fill="#0a3cf0"/>
<circle cx="1317.1" cy="2101.2" r="11.1" fill="#0a3cf0"/>
<circle cx="1337" cy="2108.3" r="11.1" fill="#0a3cf0"/>
<circle cx="1312.4" cy="2133.6" r="11.1" fill="#0a3cf0"/>
<circle cx="1349.3" cy="2129.8" r="11.1" fill="#0a3cf0"/>
<circle cx="1324.5" cy="2153.6" r="11.1" fill="#0a3cf0"/>
<circle cx="1349.3" cy="2160.1" r="11.1" fill="#0a3cf0"/>
<circle cx="1317.1" cy="2172.6" r="11.1" fill="#0a3cf0"/>
<circle cx="1356.7" cy="2179.8" r="11.1" fill="#0a3cf0"/>
<circle cx="1337" cy="2186.9" r="11.1" fill="#0a3cf0"/>
<circle cx="1433.3" cy="2108.9" r="11.1" fill="#f545f5"/>
<circle cx="1453.8" cy="2150.6" r="11.1" fill="#f545f5"/>
<circle cx="1413.3" cy="2151.8" r="11.1" fill="#f545f5"/>
<circle cx="1443.7" cy="2154.8" r="11.1" fill="#f545f5"/>
<circle cx="1423.5" cy="2167.3" r="11.1" fill="#f545f5"/>
<circle cx="1413.3" cy="2176.8" r="11.1" fill="#f545f5"/>
<circle cx="1433.3" cy="2171.4" r="11.1" fill="#f545f5"/>
<circle cx="1453.8" cy="2189.9" r="11.1" fill="#f545f5"/>
<circle cx="1422.9" cy="2192.9" r="11.1" fill="#f545f5"/>
<circle cx="1443.7" cy="2195.2" r="11.1" fill="#f545f5"/>
<circle cx="1433.3" cy="2202.4" r="11.1" fill="#f545f5"/>
<circle cx="1529.8" cy="2081.9" r="11.1" fill="#fff500"/>
<circle cx="1529.8" cy="2120.2" r="11.1" fill="#fff500"/>
<circle cx="1516.9" cy="2151.2" r="11.1" fill="#fff500"/>
<circle cx="1540.1" cy="2147.6" r="11.1" fill="#fff500"/>
<circle cx="1529.8" cy="2147.6" r="11.1" fill="#fff500"/>
<circle cx="1509.5" cy="2160.7" r="11.1" fill="#fff500"/>
<circle cx="1550.2" cy="2160.7" r="11.1" fill="#fff500"/>
<circle cx="1524.6" cy="2176.2" r="11.1" fill="#fff500"/>
<circle cx="1534.2" cy="2171.4" r="11.1" fill="#fff500"/>
</g>
<text transform="translate(970.8 2389.7) scale(1 1.09)" font-family="'Liberation Sans', Arial, sans-serif" font-size="30.5" text-anchor="end">0</text>
<text transform="translate(970.8 2253.9) scale(1 1.09)" font-family="'Liberation Sans', Arial, sans-serif" font-size="30.5" text-anchor="end">2</text>
<text transform="translate(970.8 2118) scale(1 1.09)" font-family="'Liberation Sans', Arial, sans-serif" font-size="30.5" text-anchor="end">4</text>
<text transform="translate(970.8 1982.2) scale(1 1.09)" font-family="'Liberation Sans', Arial, sans-serif" font-size="30.5" text-anchor="end">6</text>
<text transform="translate(903.5 2174.1) rotate(-90)" font-family="'Liberation Serif', 'Times New Roman', serif" font-size="29.6" text-anchor="middle">Protein counts</text>
<text transform="translate(943.6 2174.1) rotate(-90)" font-family="'Liberation Serif', 'Times New Roman', serif" font-size="29.6" text-anchor="middle">(Log2)</text>
<text x="1288.7" y="1912.9" font-family="'Liberation Serif', 'Times New Roman', serif" font-size="33" text-anchor="middle">MPEG1</text>
<text x="880" y="1927.7" font-family="'Liberation Sans', Arial, sans-serif" font-size="32.5" font-weight="bold">G</text>
<text transform="translate(1055 2410.8) rotate(-45)" font-family="'Liberation Serif', 'Times New Roman', serif" font-size="30.5" text-anchor="end">Mo6h</text>
<text transform="translate(1151.4 2410.8) rotate(-45)" font-family="'Liberation Serif', 'Times New Roman', serif" font-size="30.5" font-style="italic" text-anchor="end">La6h</text>
<text transform="translate(1247.7 2410.8) rotate(-45)" font-family="'Liberation Serif', 'Times New Roman', serif" font-size="30.5" font-style="italic" text-anchor="end">Lm6h</text>
<text transform="translate(1344.1 2410.8) rotate(-45)" font-family="'Liberation Serif', 'Times New Roman', serif" font-size="30.5" text-anchor="end">Mo24h</text>
<text transform="translate(1440.4 2410.8) rotate(-45)" font-family="'Liberation Serif', 'Times New Roman', serif" font-size="30.5" font-style="italic" text-anchor="end">La24h</text>
<text transform="translate(1536.8 2410.8) rotate(-45)" font-family="'Liberation Serif', 'Times New Roman', serif" font-size="30.5" font-style="italic" text-anchor="end">Lm24h</text>
</svg>
</body></html>
